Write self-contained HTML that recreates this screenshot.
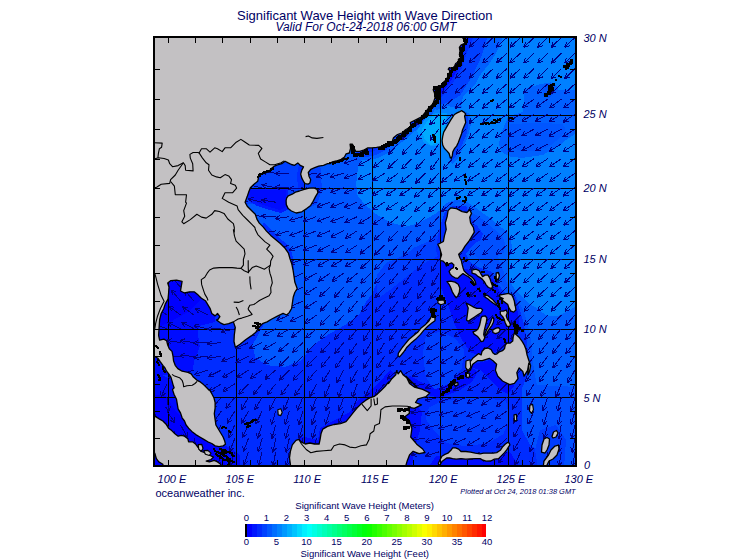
<!DOCTYPE html>
<html><head><meta charset="utf-8"><title>Significant Wave Height with Wave Direction</title>
<style>
html,body{margin:0;padding:0;background:#fff}
body{width:755px;height:560px;position:relative;overflow:hidden;font-family:"Liberation Sans",sans-serif;color:#000064}
</style></head><body>
<svg width="755" height="560" viewBox="0 0 755 560" style="position:absolute;left:0;top:0">
<defs><clipPath id="mc"><rect x="153" y="36" width="424" height="431"/></clipPath></defs>
<g clip-path="url(#mc)">
<rect x="153" y="36" width="424" height="431" fill="#0080ff"/>
<g shape-rendering="crispEdges">
<path d="M365.0 150.0 L362.8 157.5 L358.1 166.9 L356.2 183.7 L357.2 195.0 L364.7 204.3 L376.9 214.7 L390.0 222.2 L405.0 226.8 L416.2 224.0 L427.5 218.4 L436.8 212.8 L442.4 208.1 L446.0 203.0 L455.0 200.0 L466.0 201.0 L473.0 206.0 L480.3 211.2 L490.6 218.7 L500.0 226.2 L507.5 232.8 L511.2 241.2 L512.2 250.6 L509.3 258.1 L508.4 261.8 L507.5 275.0 L510.3 282.5 L516.8 291.8 L524.3 299.3 L530.4 304.5 L536.0 307.3 L542.5 312.9 L547.3 315.7 L553.7 316.5 L558.6 315.7 L563.4 313.3 L569.8 310.0 L578.0 305.0 L578.0 468.0 L152.0 468.0 L152.0 150.0 Z" fill="#0058ff"/>
<path d="M524.6 89.7 L531.8 86.5 L541.4 84.0 L551.1 82.4 L555.9 84.8 L558.3 89.7 L565.6 90.5 L578.0 90.0 L578.0 118.0 L508.5 116.2 L523.0 112.0 L523.8 100.0 Z" fill="#0060ff"/>
<path d="M508.5 116.2 L578.0 116.0 L578.0 132.0 L565.6 140.3 L557.5 146.7 L543.1 154.8 L522.2 158.0 L509.3 156.4 L501.3 151.6 L498.8 143.5 L502.9 129.1 Z" fill="#0060ff"/>
<path d="M503.5 36.0 L499.5 45.9 L494.6 55.9 L487.6 65.8 L479.7 75.7 L475.7 83.7 L469.7 89.6 L463.8 95.6 L461.0 103.6 L462.0 108.5 L456.0 108.0 L448.0 106.0 L436.0 110.0 L430.0 100.0 L450.0 60.0 L465.0 36.0 Z" fill="#0060ff"/>
<path d="M436.0 108.0 L431.0 116.0 L424.0 124.0 L415.0 131.0 L406.0 139.0 L397.0 146.0 L388.0 153.0 L378.0 158.0 L368.0 160.0 L360.0 160.0 L355.0 150.0 L400.0 120.0 L430.0 95.0 Z" fill="#0060ff"/>
<path d="M462.0 110.0 L470.0 114.0 L471.0 124.0 L468.0 136.0 L463.0 148.0 L457.0 160.0 L452.0 164.0 L449.0 158.0 L458.0 140.0 L464.0 120.0 Z" fill="#0060ff"/>
<path d="M466.0 201.0 L473.0 206.0 L480.3 211.2 L490.6 218.7 L500.0 226.2 L507.5 232.8 L511.2 241.2 L512.2 250.6 L509.3 258.1 L508.4 261.8 L507.5 275.0 L510.3 282.5 L516.8 291.8 L524.3 299.3 L530.4 304.5 L536.0 307.3 L542.5 312.9 L547.3 315.7 L553.7 316.5 L558.6 315.7 L563.4 313.3 L569.8 310.0 L578.0 305.0 L578.0 468.0 L522.0 468.0 L522.0 388.0 L515.0 300.0 L470.0 250.0 L455.0 215.0 L455.0 203.0 Z" fill="#0060ff"/>
<path d="M466.0 204.0 L471.9 213.1 L479.4 216.9 L488.7 224.4 L496.2 230.9 L502.8 237.5 L505.6 245.0 L503.7 252.5 L498.1 256.2 L500.0 263.7 L503.7 271.2 L505.6 280.6 L511.2 290.0 L516.8 297.5 L520.6 305.0 L524.0 312.0 L528.0 325.0 L531.0 340.0 L532.0 355.0 L534.0 370.0 L537.0 385.0 L530.0 390.0 L520.0 390.0 L515.0 300.0 L470.0 250.0 L455.0 215.0 Z" fill="#0050ff"/>
<path d="M537.0 385.0 L578.0 387.0 L578.0 468.0 L520.0 468.0 L520.0 390.0 Z" fill="#0050ff"/>
<path d="M542.0 86.0 L548.0 84.0 L554.0 86.0 L555.0 93.0 L549.0 98.0 L543.0 96.0 Z" fill="#0055ff"/>
<path d="M510.1 124.2 L538.2 122.6 L562.3 124.2 L565.6 129.1 L560.7 137.1 L551.1 145.1 L538.2 150.8 L522.2 151.6 L510.9 146.7 L507.7 137.1 Z" fill="#0056ff"/>
<path d="M487.6 36.0 L481.7 55.9 L472.7 75.7 L463.8 89.6 L459.8 95.6 L449.9 101.6 L441.9 104.5 L436.0 103.0 L432.0 98.0 L450.0 60.0 L465.0 36.0 Z" fill="#0040ff"/>
<path d="M434.0 106.0 L429.0 114.0 L422.0 121.0 L413.0 128.0 L404.0 136.0 L395.0 143.0 L386.0 150.0 L376.0 155.0 L366.0 157.0 L358.0 157.0 L355.0 150.0 L400.0 120.0 L430.0 95.0 Z" fill="#0040ff"/>
<path d="M464.0 112.0 L468.0 116.0 L468.5 124.0 L466.0 136.0 L461.0 147.0 L455.0 158.0 L452.0 160.0 L450.0 156.0 L458.0 140.0 L464.0 120.0 Z" fill="#0040ff"/>
<path d="M264.5 322.8 L252.3 345.6 L255.4 357.7 L267.5 365.3 L285.7 366.8 L300.9 360.7 L313.1 345.6 L325.2 336.4 L337.0 329.5 L346.4 324.3 L359.0 314.6 L366.0 302.0 L372.0 294.0 L376.5 284.0 L377.0 275.0 L386.0 262.9 L405.0 255.0 L414.3 247.5 L427.5 241.8 L438.7 234.3 L444.0 225.0 L447.0 212.0 L452.0 206.0 L466.0 206.0 L472.8 222.5 L477.5 226.2 L483.1 233.7 L481.2 239.4 L475.6 243.1 L470.0 248.7 L466.0 254.0 L470.0 262.0 L480.0 268.0 L492.0 272.0 L498.0 284.0 L504.0 292.0 L515.0 296.0 L520.0 310.0 L524.0 325.0 L527.0 340.0 L528.0 355.0 L530.0 370.0 L522.0 388.0 L522.0 400.0 L522.0 430.0 L530.0 445.0 L540.0 452.0 L545.0 468.0 L152.0 468.0 L152.0 280.0 L200.0 280.0 L240.0 330.0 Z" fill="#002cff"/>
<path d="M474.0 36.0 L468.0 50.0 L462.0 68.0 L452.0 84.0 L444.0 95.0 L436.0 100.0 L430.0 95.0 L450.0 60.0 L465.0 36.0 Z" fill="#002cff"/>
<path d="M377.0 275.0 L386.0 262.9 L405.0 255.0 L414.3 247.5 L427.5 241.8 L438.7 234.3 L442.0 240.0 L441.0 256.0 L430.0 260.0 L420.0 266.0 L410.0 274.0 L400.0 282.0 L390.0 290.0 L380.0 297.0 L376.5 290.0 Z" fill="#0040ff"/>
<path d="M240.0 160.0 L320.0 160.0 L322.0 190.0 L317.0 204.0 L300.0 212.0 L285.0 210.0 L270.0 204.0 L255.0 203.0 L245.0 205.0 Z" fill="#0040ff"/>
<path d="M240.0 338.0 L251.0 345.0 L250.0 360.0 L246.0 378.0 L250.0 388.0 L280.0 388.0 L310.0 385.0 L335.0 378.0 L360.0 372.0 L380.0 368.0 L392.0 358.0 L398.0 348.0 L410.0 334.0 L420.0 318.0 L412.0 300.0 L410.0 285.0 L416.0 270.0 L428.0 262.0 L438.0 256.0 L436.0 250.0 L438.0 235.0 L442.0 220.0 L445.0 212.0 L449.0 208.0 L466.0 208.0 L470.0 214.0 L474.0 224.0 L476.0 232.0 L472.0 240.0 L466.0 247.0 L463.0 252.0 L467.0 262.0 L478.0 268.0 L490.0 273.0 L496.0 285.0 L502.0 293.0 L512.0 297.0 L518.0 310.0 L522.0 325.0 L525.0 340.0 L526.0 355.0 L528.0 370.0 L520.0 386.0 L516.0 392.0 L516.0 430.0 L526.0 446.0 L536.0 454.0 L540.0 468.0 L152.0 468.0 L152.0 278.0 L200.0 278.0 L215.0 322.0 L230.0 335.0 Z" fill="#002cff"/>
<path d="M246.0 188.0 L288.0 188.0 L288.0 200.0 L291.0 208.0 L281.0 213.0 L266.0 209.0 L257.0 206.0 L249.0 201.0 Z" fill="#0019ff"/>
<path d="M299.0 165.0 L304.0 169.0 L305.0 188.0 L298.0 188.0 L297.0 175.0 Z" fill="#002cff"/>
<path d="M470.0 36.0 L464.0 50.0 L459.0 68.0 L450.0 82.0 L442.0 93.0 L436.0 98.0 L430.0 95.0 L450.0 60.0 L465.0 36.0 Z" fill="#000cff"/>
<path d="M432.0 100.0 L428.0 108.0 L420.0 116.0 L411.0 124.0 L402.0 132.0 L393.0 139.0 L384.0 146.0 L374.0 151.0 L364.0 154.0 L358.0 154.0 L355.0 148.0 L400.0 118.0 L430.0 93.0 Z" fill="#002cff"/>
<path d="M262.0 226.0 L266.5 231.0 L270.7 235.4 L275.5 239.5 L280.3 243.5 L285.1 248.3 L288.4 253.1 L290.0 258.7 L292.0 270.0 L294.5 270.0 L293.0 258.0 L291.5 251.5 L288.0 246.0 L283.0 241.0 L278.0 236.5 L273.0 232.0 L268.0 227.0 L264.0 222.0 Z" fill="#002cff"/>
<path d="M152.0 278.0 L215.0 278.0 L215.0 322.0 L199.0 326.0 L198.0 335.0 L199.7 346.0 L197.0 354.0 L194.0 361.0 L193.0 369.0 L190.0 373.0 L180.0 375.0 L152.0 375.0 Z" fill="#000cff"/>
<path d="M152.0 370.0 L172.0 380.0 L176.0 395.0 L190.0 420.0 L215.0 440.0 L230.0 448.0 L240.0 455.0 L240.0 468.0 L152.0 468.0 Z" fill="#000cff"/>
<path d="M296.0 468.0 L296.0 440.0 L300.0 436.0 L318.0 440.0 L320.0 428.0 L335.0 420.0 L350.0 412.0 L356.0 402.0 L368.0 392.0 L378.0 384.0 L390.0 370.0 L396.0 376.0 L384.0 400.0 L360.0 425.0 L320.0 450.0 L310.0 468.0 Z" fill="#000cff"/>
<path d="M440.0 262.0 L448.0 258.0 L462.0 268.0 L478.0 272.0 L494.0 280.0 L500.0 292.0 L512.0 300.0 L518.0 312.0 L520.0 330.0 L510.0 345.0 L495.0 352.0 L480.0 356.0 L470.0 352.0 L462.0 340.0 L455.0 325.0 L448.0 305.0 L440.0 285.0 Z" fill="#000cff"/>
<path d="M466.0 366.0 L480.0 370.0 L490.0 380.0 L500.0 390.0 L508.0 394.0 L514.0 386.0 L505.0 370.0 L490.0 360.0 Z" fill="#000cff"/>
<path d="M416.0 392.0 L440.0 398.0 L460.0 390.0 L472.0 382.0 L478.0 372.0 L470.0 366.0 L455.0 378.0 L440.0 386.0 L425.0 384.0 L410.0 376.0 L402.0 380.0 L400.0 390.0 Z" fill="#000cff"/>
<path d="M436.0 456.0 L510.0 452.0 L520.0 468.0 L428.0 468.0 Z" fill="#000cff"/>
<path d="M400.0 388.0 L412.0 398.0 L422.0 412.0 L420.0 430.0 L414.0 450.0 L412.0 468.0 L398.0 468.0 Z" fill="#000cff"/>
<path d="M248.0 190.0 L286.0 190.0 L286.0 200.0 L288.0 206.0 L280.0 210.0 L266.0 206.0 L258.0 203.0 L251.0 199.0 Z" fill="#000cff"/>
<path d="M152.0 278.0 L200.0 278.0 L200.0 300.0 L188.0 312.0 L170.0 322.0 L152.0 330.0 Z" fill="#0000ff"/>
<path d="M152.0 395.0 L165.0 395.0 L175.0 410.0 L190.0 428.0 L210.0 444.0 L225.0 452.0 L225.0 468.0 L152.0 468.0 Z" fill="#0000ff"/>
<path d="M425.8 335.8 L440.7 331.3 L455.6 338.8 L464.6 350.7 L461.6 368.6 L449.6 383.5 L434.7 389.5 L425.8 377.5 L422.8 353.7 Z" fill="#0040ff"/>
<path d="M440.7 401.4 L464.6 398.4 L488.4 398.4 L506.3 401.4 L509.3 419.3 L503.3 434.2 L488.4 443.2 L464.6 446.1 L446.7 443.2 L434.7 431.2 L425.8 419.3 L428.8 407.4 Z" fill="#0040ff"/>
<path d="M540.0 430.0 L556.0 425.0 L566.0 440.0 L564.0 468.0 L538.0 468.0 L535.0 450.0 Z" fill="#003cff"/>
<path d="M417.0 131.4 L418.6 128.0 L421.4 124.0 L425.0 119.5 L428.6 115.5 L436.0 113.0 L447.0 113.0 L446.0 125.0 L443.0 135.0 L442.0 143.0 L440.0 145.0 L432.1 146.5 L428.6 145.0 L423.6 142.0 L421.4 138.6 Z" fill="#0096ff"/>
<path d="M421.4 130.0 L423.6 126.4 L427.1 121.4 L430.0 117.9 L433.0 116.0 L446.0 116.0 L445.0 125.0 L443.0 135.0 L441.5 141.4 L435.7 143.6 L431.4 145.0 L428.6 143.6 L425.0 140.0 L422.9 135.0 Z" fill="#00aaff"/>
</g>
<g stroke="#000" stroke-width="1" shape-rendering="crispEdges">
<line x1="168.5" y1="36" x2="168.5" y2="467"/>
<line x1="236.5" y1="36" x2="236.5" y2="467"/>
<line x1="304.5" y1="36" x2="304.5" y2="467"/>
<line x1="372.5" y1="36" x2="372.5" y2="467"/>
<line x1="440.5" y1="36" x2="440.5" y2="467"/>
<line x1="508.5" y1="36" x2="508.5" y2="467"/>
<line x1="153" y1="397.5" x2="577" y2="397.5"/>
<line x1="153" y1="329.5" x2="577" y2="329.5"/>
<line x1="153" y1="259.5" x2="577" y2="259.5"/>
<line x1="153" y1="188.5" x2="577" y2="188.5"/>
<line x1="153" y1="115.5" x2="577" y2="115.5"/>
</g>
<g stroke="#000086" stroke-width="1" fill="none" stroke-linecap="butt" shape-rendering="crispEdges">
<path d="M153.3 465.5 L158.2 479.0 M158.2 479.0 L158.9 473.5 M158.2 479.0 L154.2 475.2 M153.3 411.1 L160.2 423.7 M160.2 423.7 L160.0 418.1 M160.2 423.7 L155.6 420.5 M153.3 397.4 L152.2 411.8 M152.2 411.8 L155.0 407.0 M152.2 411.8 L150.1 406.6 M153.3 383.8 L147.4 396.9 M147.4 396.9 L151.7 393.3 M147.4 396.9 L147.2 391.3 M153.3 370.1 L146.7 382.9 M146.7 382.9 L151.2 379.5 M146.7 382.9 L146.8 377.3 M166.9 424.7 L174.5 436.9 M174.5 436.9 L174.0 431.3 M174.5 436.9 L169.8 434.0 M166.9 411.1 L175.0 423.0 M175.0 423.0 L174.2 417.4 M175.0 423.0 L170.1 420.2 M166.9 397.4 L168.9 411.7 M168.9 411.7 L170.6 406.4 M168.9 411.7 L165.7 407.0 M166.9 383.8 L161.1 396.9 M161.1 396.9 L165.4 393.3 M161.1 396.9 L160.8 391.3 M166.9 328.8 L153.4 323.7 M153.4 323.7 L157.2 327.8 M153.4 323.7 L159.0 323.1 M166.9 315.0 L155.0 306.8 M155.0 306.8 L157.8 311.7 M155.0 306.8 L160.6 307.6 M166.9 301.1 L156.5 291.2 M156.5 291.2 L158.4 296.4 M156.5 291.2 L161.8 292.8 M180.5 424.7 L187.3 437.4 M187.3 437.4 L187.1 431.8 M187.3 437.4 L182.8 434.1 M180.5 370.1 L168.6 378.2 M168.6 378.2 L174.2 377.4 M168.6 378.2 L171.4 373.3 M180.5 356.3 L166.1 356.0 M166.1 356.0 L171.1 358.6 M166.1 356.0 L171.2 353.6 M180.5 342.6 L166.3 340.4 M166.3 340.4 L170.9 343.7 M166.3 340.4 L171.6 338.7 M180.5 328.8 L167.6 322.3 M167.6 322.3 L171.0 326.8 M167.6 322.3 L173.2 322.4 M180.5 315.0 L169.0 306.3 M169.0 306.3 L171.5 311.3 M169.0 306.3 L174.5 307.3 M180.5 301.1 L171.4 289.9 M171.4 289.9 L172.7 295.4 M171.4 289.9 L176.5 292.2 M180.5 287.2 L170.9 276.4 M170.9 276.4 L172.4 281.8 M170.9 276.4 L176.1 278.5 M194.1 438.3 L197.8 452.2 M197.8 452.2 L198.9 446.7 M197.8 452.2 L194.1 448.0 M194.1 370.1 L180.4 374.6 M180.4 374.6 L186.0 375.4 M180.4 374.6 L184.4 370.7 M194.1 356.3 L179.7 355.5 M179.7 355.5 L184.6 358.3 M179.7 355.5 L184.9 353.3 M194.1 342.6 L179.8 340.6 M179.8 340.6 L184.5 343.8 M179.8 340.6 L185.2 338.8 M194.1 328.8 L181.4 322.1 M181.4 322.1 L184.6 326.6 M181.4 322.1 L187.0 322.2 M194.1 315.0 L182.3 306.7 M182.3 306.7 L185.0 311.6 M182.3 306.7 L187.9 307.5 M194.1 301.1 L184.5 290.4 M184.5 290.4 L186.0 295.8 M184.5 290.4 L189.7 292.4 M207.7 451.9 L209.7 466.2 M209.7 466.2 L211.5 460.8 M209.7 466.2 L206.5 461.5 M207.7 383.8 L196.4 392.7 M196.4 392.7 L201.9 391.5 M196.4 392.7 L198.8 387.7 M207.7 370.1 L194.1 374.8 M194.1 374.8 L199.7 375.5 M194.1 374.8 L198.0 370.8 M207.7 356.3 L193.4 357.7 M193.4 357.7 L198.6 359.7 M193.4 357.7 L198.1 354.7 M207.7 342.6 L193.3 343.1 M193.3 343.1 L198.4 345.4 M193.3 343.1 L198.2 340.4 M207.7 328.8 L193.7 325.4 M193.7 325.4 L198.0 329.0 M193.7 325.4 L199.2 324.2 M207.7 315.0 L194.9 308.3 M194.9 308.3 L198.2 312.8 M194.9 308.3 L200.5 308.4 M221.3 465.5 L220.0 479.8 M220.0 479.8 L222.9 475.1 M220.0 479.8 L218.0 474.6 M221.3 451.9 L217.8 465.9 M217.8 465.9 L221.4 461.6 M217.8 465.9 L216.6 460.4 M221.3 424.7 L214.7 437.5 M214.7 437.5 L219.2 434.2 M214.7 437.5 L214.8 431.9 M221.3 411.1 L213.1 422.9 M213.1 422.9 L218.0 420.2 M213.1 422.9 L213.9 417.4 M221.3 397.4 L212.0 408.4 M212.0 408.4 L217.1 406.2 M212.0 408.4 L213.3 402.9 M221.3 383.8 L209.1 391.4 M209.1 391.4 L214.7 390.9 M209.1 391.4 L212.0 386.7 M221.3 370.1 L208.4 376.5 M208.4 376.5 L214.0 376.5 M208.4 376.5 L211.8 372.0 M221.3 356.3 L207.0 358.2 M207.0 358.2 L212.3 360.0 M207.0 358.2 L211.7 355.1 M221.3 342.6 L207.0 344.0 M207.0 344.0 L212.2 346.0 M207.0 344.0 L211.7 341.0 M221.3 328.8 L206.9 329.1 M206.9 329.1 L212.0 331.5 M206.9 329.1 L211.9 326.5 M234.9 465.5 L231.1 479.4 M231.1 479.4 L234.8 475.2 M231.1 479.4 L230.0 473.9 M234.9 451.9 L229.9 465.4 M229.9 465.4 L233.9 461.6 M229.9 465.4 L229.3 459.8 M234.9 438.3 L229.5 451.7 M229.5 451.7 L233.7 447.9 M229.5 451.7 L229.1 446.1 M234.9 424.7 L228.8 437.7 M228.8 437.7 L233.2 434.2 M228.8 437.7 L228.7 432.1 M234.9 411.1 L227.2 423.2 M227.2 423.2 L232.0 420.3 M227.2 423.2 L227.8 417.6 M234.9 397.4 L225.7 408.5 M225.7 408.5 L230.8 406.2 M225.7 408.5 L227.0 403.0 M234.9 383.8 L222.7 391.3 M222.7 391.3 L228.2 390.8 M222.7 391.3 L225.6 386.6 M234.9 370.1 L222.5 377.3 M222.5 377.3 L228.0 376.9 M222.5 377.3 L225.5 372.6 M234.9 356.3 L221.4 361.4 M221.4 361.4 L227.0 361.9 M221.4 361.4 L225.2 357.3 M234.9 328.8 L220.9 332.0 M220.9 332.0 L226.3 333.3 M220.9 332.0 L225.2 328.5 M248.5 465.5 L244.2 479.2 M244.2 479.2 L248.1 475.2 M244.2 479.2 L243.3 473.7 M248.5 451.9 L243.7 465.5 M243.7 465.5 L247.7 461.6 M243.7 465.5 L243.0 459.9 M248.5 438.3 L243.3 451.7 M243.3 451.7 L247.4 447.9 M243.3 451.7 L242.8 446.1 M248.5 424.7 L242.4 437.7 M242.4 437.7 L246.8 434.2 M242.4 437.7 L242.3 432.1 M248.5 411.1 L241.3 423.5 M241.3 423.5 L246.0 420.4 M241.3 423.5 L241.6 417.9 M248.5 397.4 L241.2 409.8 M241.2 409.8 L245.9 406.8 M241.2 409.8 L241.6 404.2 M248.5 383.8 L238.7 394.3 M238.7 394.3 L244.0 392.3 M238.7 394.3 L240.3 389.0 M248.5 370.1 L236.5 378.1 M236.5 378.1 L242.1 377.4 M236.5 378.1 L239.3 373.2 M248.5 356.3 L235.6 362.7 M235.6 362.7 L241.2 362.7 M235.6 362.7 L239.0 358.3 M248.5 342.6 L235.4 348.6 M235.4 348.6 L241.0 348.8 M235.4 348.6 L238.9 344.3 M248.5 202.2 L234.6 198.6 M234.6 198.6 L238.8 202.3 M234.6 198.6 L240.0 197.5 M262.1 465.5 L258.2 479.4 M258.2 479.4 L262.0 475.2 M258.2 479.4 L257.2 473.9 M262.1 451.9 L258.5 465.8 M258.5 465.8 L262.2 461.6 M258.5 465.8 L257.4 460.4 M262.1 438.3 L258.2 452.1 M258.2 452.1 L261.9 448.0 M258.2 452.1 L257.1 446.6 M262.1 424.7 L257.3 438.3 M257.3 438.3 L261.3 434.4 M257.3 438.3 L256.6 432.7 M262.1 411.1 L255.9 424.0 M255.9 424.0 L260.3 420.6 M255.9 424.0 L255.8 418.4 M262.1 397.4 L254.8 409.8 M254.8 409.8 L259.5 406.8 M254.8 409.8 L255.2 404.2 M262.1 383.8 L253.1 395.0 M253.1 395.0 L258.2 392.6 M253.1 395.0 L254.3 389.5 M262.1 370.1 L250.3 378.4 M250.3 378.4 L255.9 377.5 M250.3 378.4 L253.0 373.5 M262.1 356.3 L249.1 362.6 M249.1 362.6 L254.7 362.7 M249.1 362.6 L252.6 358.2 M262.1 342.6 L249.1 348.8 M249.1 348.8 L254.7 348.9 M249.1 348.8 L252.6 344.4 M262.1 328.8 L249.2 335.2 M249.2 335.2 L254.8 335.2 M249.2 335.2 L252.6 330.7 M262.1 216.6 L247.9 214.1 M247.9 214.1 L252.4 217.4 M247.9 214.1 L253.3 212.5 M262.1 202.2 L248.1 198.7 M248.1 198.7 L252.4 202.4 M248.1 198.7 L253.6 197.5 M262.1 187.8 L248.0 184.8 M248.0 184.8 L252.4 188.3 M248.0 184.8 L253.4 183.4 M275.7 465.5 L272.3 479.5 M272.3 479.5 L275.9 475.2 M272.3 479.5 L271.1 474.0 M275.7 451.9 L273.0 466.0 M273.0 466.0 L276.4 461.6 M273.0 466.0 L271.5 460.7 M275.7 438.3 L272.9 452.4 M272.9 452.4 L276.3 448.0 M272.9 452.4 L271.4 447.0 M275.7 424.7 L271.9 438.6 M271.9 438.6 L275.6 434.4 M271.9 438.6 L270.8 433.1 M275.7 411.1 L271.5 424.8 M271.5 424.8 L275.4 420.8 M271.5 424.8 L270.6 419.3 M275.7 397.4 L269.3 410.3 M269.3 410.3 L273.8 406.9 M269.3 410.3 L269.3 404.7 M275.7 383.8 L266.9 395.2 M266.9 395.2 L271.9 392.7 M266.9 395.2 L268.0 389.7 M275.7 370.1 L264.8 379.5 M264.8 379.5 L270.2 378.1 M264.8 379.5 L267.0 374.3 M275.7 356.3 L263.5 364.1 M263.5 364.1 L269.1 363.5 M263.5 364.1 L266.4 359.3 M275.7 342.6 L263.2 349.8 M263.2 349.8 L268.8 349.4 M263.2 349.8 L266.3 345.1 M275.7 328.8 L263.1 335.8 M263.1 335.8 L268.7 335.6 M263.1 335.8 L266.3 331.2 M275.7 230.8 L261.5 233.5 M261.5 233.5 L266.9 235.0 M261.5 233.5 L266.0 230.1 M275.7 216.6 L261.3 216.0 M261.3 216.0 L266.2 218.7 M261.3 216.0 L266.4 213.7 M275.7 202.2 L261.5 199.9 M261.5 199.9 L266.0 203.2 M261.5 199.9 L266.8 198.3 M275.7 187.8 L261.6 184.9 M261.6 184.9 L266.0 188.4 M261.6 184.9 L267.0 183.5 M275.7 173.3 L261.5 171.1 M261.5 171.1 L266.0 174.3 M261.5 171.1 L266.8 169.4 M289.3 465.5 L285.8 479.5 M285.8 479.5 L289.4 475.2 M285.8 479.5 L284.6 474.0 M289.3 451.9 L286.4 466.0 M286.4 466.0 L289.9 461.6 M286.4 466.0 L285.0 460.6 M289.3 438.3 L286.2 452.3 M286.2 452.3 L289.7 448.0 M286.2 452.3 L284.8 446.9 M289.3 424.7 L285.5 438.6 M285.5 438.6 L289.2 434.4 M285.5 438.6 L284.4 433.1 M289.3 411.1 L285.2 424.9 M285.2 424.9 L289.0 420.8 M285.2 424.9 L284.2 419.3 M289.3 397.4 L283.4 410.6 M283.4 410.6 L287.8 407.0 M283.4 410.6 L283.2 405.0 M289.3 383.8 L280.7 395.3 M280.7 395.3 L285.7 392.8 M280.7 395.3 L281.7 389.8 M289.3 370.1 L279.2 380.3 M279.2 380.3 L284.5 378.5 M279.2 380.3 L280.9 375.0 M289.3 356.3 L278.9 366.4 M278.9 366.4 L284.3 364.7 M278.9 366.4 L280.8 361.1 M289.3 342.6 L278.2 351.8 M278.2 351.8 L283.7 350.5 M278.2 351.8 L280.5 346.7 M289.3 328.8 L277.2 336.6 M277.2 336.6 L282.7 336.0 M277.2 336.6 L280.1 331.8 M289.3 315.0 L276.2 320.9 M276.2 320.9 L281.8 321.1 M276.2 320.9 L279.7 316.6 M289.3 245.0 L275.8 249.9 M275.8 249.9 L281.3 250.6 M275.8 249.9 L279.6 245.9 M289.3 230.8 L275.6 235.1 M275.6 235.1 L281.1 236.0 M275.6 235.1 L279.6 231.3 M289.3 216.6 L275.1 218.8 M275.1 218.8 L280.4 220.5 M275.1 218.8 L279.6 215.5 M289.3 187.8 L274.9 187.0 M274.9 187.0 L279.8 189.7 M274.9 187.0 L280.1 184.8 M289.3 173.3 L274.9 173.5 M274.9 173.5 L279.9 175.9 M274.9 173.5 L279.9 170.9 M302.9 438.3 L299.1 452.2 M299.1 452.2 L302.8 448.0 M299.1 452.2 L298.0 446.7 M302.9 424.7 L299.1 438.6 M299.1 438.6 L302.9 434.4 M299.1 438.6 L298.1 433.1 M302.9 411.1 L298.6 424.8 M298.6 424.8 L302.5 420.8 M298.6 424.8 L297.8 419.3 M302.9 397.4 L297.1 410.6 M297.1 410.6 L301.4 407.0 M297.1 410.6 L296.9 405.0 M302.9 383.8 L294.7 395.6 M294.7 395.6 L299.6 392.9 M294.7 395.6 L295.5 390.1 M302.9 370.1 L292.9 380.4 M292.9 380.4 L298.2 378.5 M292.9 380.4 L294.6 375.1 M302.9 356.3 L292.7 366.5 M292.7 366.5 L298.0 364.7 M292.7 366.5 L294.5 361.2 M302.9 342.6 L292.4 352.5 M292.4 352.5 L297.8 350.8 M292.4 352.5 L294.4 347.2 M302.9 328.8 L291.3 337.4 M291.3 337.4 L296.8 336.4 M291.3 337.4 L293.9 332.4 M302.9 315.0 L290.1 321.6 M290.1 321.6 L295.7 321.5 M290.1 321.6 L293.4 317.1 M302.9 301.1 L289.7 306.9 M289.7 306.9 L295.3 307.2 M289.7 306.9 L293.3 302.6 M302.9 287.2 L289.8 293.2 M289.8 293.2 L295.4 293.4 M289.8 293.2 L293.3 288.9 M302.9 273.2 L289.8 279.1 M289.8 279.1 L295.4 279.3 M289.8 279.1 L293.3 274.8 M302.9 259.1 L289.4 264.2 M289.4 264.2 L295.0 264.8 M289.4 264.2 L293.2 260.1 M302.9 245.0 L289.4 250.0 M289.4 250.0 L294.9 250.6 M289.4 250.0 L293.2 245.9 M302.9 230.8 L289.4 235.7 M289.4 235.7 L294.9 236.4 M289.4 235.7 L293.2 231.7 M302.9 216.6 L289.1 220.7 M289.1 220.7 L294.6 221.6 M289.1 220.7 L293.2 216.9 M302.9 187.8 L288.6 189.1 M288.6 189.1 L293.8 191.1 M288.6 189.1 L293.3 186.1 M316.5 438.3 L312.1 452.0 M312.1 452.0 L316.0 448.0 M312.1 452.0 L311.3 446.5 M316.5 424.7 L312.2 438.4 M312.2 438.4 L316.1 434.4 M312.2 438.4 L311.3 432.9 M316.5 411.1 L311.8 424.7 M311.8 424.7 L315.8 420.7 M311.8 424.7 L311.1 419.1 M316.5 397.4 L311.5 410.9 M311.5 410.9 L315.6 407.1 M311.5 410.9 L310.9 405.4 M316.5 383.8 L309.9 396.6 M309.9 396.6 L314.4 393.2 M309.9 396.6 L310.0 391.0 M316.5 370.1 L307.3 381.2 M307.3 381.2 L312.4 378.9 M307.3 381.2 L308.6 375.7 M316.5 356.3 L306.6 366.8 M306.6 366.8 L311.8 364.9 M306.6 366.8 L308.2 361.4 M316.5 342.6 L306.3 352.7 M306.3 352.7 L311.6 351.0 M306.3 352.7 L308.1 347.4 M316.5 328.8 L305.6 338.2 M305.6 338.2 L311.0 336.8 M305.6 338.2 L307.8 333.1 M316.5 315.0 L304.9 323.5 M304.9 323.5 L310.4 322.5 M304.9 323.5 L307.5 318.5 M316.5 301.1 L304.5 309.1 M304.5 309.1 L310.1 308.4 M304.5 309.1 L307.3 304.2 M316.5 287.2 L304.3 294.9 M304.3 294.9 L309.9 294.3 M304.3 294.9 L307.2 290.1 M316.5 273.2 L303.9 280.2 M303.9 280.2 L309.5 279.9 M303.9 280.2 L307.1 275.6 M316.5 259.1 L303.4 265.0 M303.4 265.0 L309.0 265.2 M303.4 265.0 L306.9 260.7 M316.5 245.0 L303.2 250.5 M303.2 250.5 L308.8 250.9 M303.2 250.5 L306.9 246.3 M316.5 230.8 L303.1 236.1 M303.1 236.1 L308.7 236.6 M303.1 236.1 L306.9 231.9 M316.5 216.6 L303.0 221.5 M303.0 221.5 L308.5 222.1 M303.0 221.5 L306.8 217.4 M316.5 202.2 L302.8 206.7 M302.8 206.7 L308.4 207.5 M302.8 206.7 L306.8 202.8 M316.5 187.8 L302.4 190.9 M302.4 190.9 L307.9 192.3 M302.4 190.9 L306.8 187.4 M316.5 173.3 L302.2 175.2 M302.2 175.2 L307.5 177.0 M302.2 175.2 L306.9 172.1 M330.1 424.7 L325.0 438.1 M325.0 438.1 L329.1 434.3 M325.0 438.1 L324.4 432.6 M330.1 411.1 L325.4 424.7 M325.4 424.7 L329.4 420.7 M325.4 424.7 L324.7 419.1 M330.1 397.4 L325.6 411.1 M325.6 411.1 L329.5 407.1 M325.6 411.1 L324.8 405.6 M330.1 383.8 L324.6 397.1 M324.6 397.1 L328.8 393.4 M324.6 397.1 L324.2 391.5 M330.1 370.1 L322.4 382.3 M322.4 382.3 L327.2 379.3 M322.4 382.3 L323.0 376.7 M330.1 356.3 L321.0 367.5 M321.0 367.5 L326.1 365.2 M321.0 367.5 L322.3 362.1 M330.1 342.6 L320.4 353.2 M320.4 353.2 L325.6 351.2 M320.4 353.2 L321.9 347.8 M330.1 328.8 L320.0 339.1 M320.0 339.1 L325.3 337.2 M320.0 339.1 L321.7 333.7 M330.1 315.0 L320.0 325.2 M320.0 325.2 L325.3 323.4 M320.0 325.2 L321.7 319.9 M330.1 301.1 L320.1 311.4 M320.1 311.4 L325.3 309.6 M320.1 311.4 L321.8 306.1 M330.1 287.2 L319.3 296.7 M319.3 296.7 L324.7 295.3 M319.3 296.7 L321.4 291.5 M330.1 273.2 L318.2 281.3 M318.2 281.3 L323.8 280.5 M318.2 281.3 L321.0 276.4 M330.1 259.1 L317.7 266.5 M317.7 266.5 L323.3 266.1 M317.7 266.5 L320.8 261.8 M330.1 245.0 L317.3 251.7 M317.3 251.7 L322.9 251.6 M317.3 251.7 L320.6 247.2 M330.1 230.8 L316.8 236.3 M316.8 236.3 L322.4 236.7 M316.8 236.3 L320.5 232.1 M330.1 216.6 L316.6 221.5 M316.6 221.5 L322.1 222.1 M316.6 221.5 L320.4 217.5 M330.1 202.2 L316.6 207.2 M316.6 207.2 L322.1 207.8 M316.6 207.2 L320.4 203.1 M330.1 187.8 L316.3 192.1 M316.3 192.1 L321.9 193.0 M316.3 192.1 L320.4 188.2 M330.1 173.3 L316.2 177.0 M316.2 177.0 L321.7 178.1 M316.2 177.0 L320.4 173.3 M343.7 411.1 L338.5 424.5 M338.5 424.5 L342.6 420.7 M338.5 424.5 L338.0 418.9 M343.7 397.4 L338.7 410.9 M338.7 410.9 L342.8 407.1 M338.7 410.9 L338.1 405.4 M343.7 383.8 L338.2 397.1 M338.2 397.1 L342.4 393.4 M338.2 397.1 L337.8 391.5 M343.7 370.1 L336.8 382.7 M336.8 382.7 L341.4 379.5 M336.8 382.7 L337.0 377.1 M343.7 356.3 L335.3 368.1 M335.3 368.1 L340.3 365.4 M335.3 368.1 L336.2 362.5 M343.7 342.6 L334.6 353.8 M334.6 353.8 L339.7 351.4 M334.6 353.8 L335.9 348.3 M343.7 328.8 L334.3 339.7 M334.3 339.7 L339.4 337.5 M334.3 339.7 L335.7 334.3 M343.7 315.0 L334.4 326.0 M334.4 326.0 L339.6 323.8 M334.4 326.0 L335.8 320.6 M343.7 301.1 L334.7 312.4 M334.7 312.4 L339.8 310.0 M334.7 312.4 L335.9 306.9 M343.7 287.2 L334.0 297.8 M334.0 297.8 L339.2 295.8 M334.0 297.8 L335.5 292.4 M343.7 273.2 L331.9 281.4 M331.9 281.4 L337.4 280.6 M331.9 281.4 L334.6 276.5 M343.7 259.1 L331.3 266.5 M331.3 266.5 L336.9 266.0 M331.3 266.5 L334.4 261.8 M343.7 245.0 L331.3 252.4 M331.3 252.4 L336.9 252.0 M331.3 252.4 L334.4 247.7 M343.7 230.8 L330.7 237.1 M330.7 237.1 L336.3 237.1 M330.7 237.1 L334.2 232.7 M343.7 216.6 L330.3 221.9 M330.3 221.9 L335.9 222.3 M330.3 221.9 L334.1 217.7 M343.7 202.2 L330.3 207.5 M330.3 207.5 L335.9 208.0 M330.3 207.5 L334.1 203.4 M343.7 187.8 L330.1 192.7 M330.1 192.7 L335.7 193.3 M330.1 192.7 L334.0 188.6 M343.7 173.3 L329.8 177.1 M329.8 177.1 L335.3 178.2 M329.8 177.1 L334.0 173.4 M343.7 158.7 L329.9 162.6 M329.9 162.6 L335.4 163.6 M329.9 162.6 L334.0 158.9 M357.3 397.4 L352.3 410.9 M352.3 410.9 L356.4 407.1 M352.3 410.9 L351.7 405.3 M357.3 383.8 L352.2 397.2 M352.2 397.2 L356.3 393.4 M352.2 397.2 L351.6 391.6 M357.3 370.1 L350.6 382.8 M350.6 382.8 L355.1 379.5 M350.6 382.8 L350.7 377.2 M357.3 356.3 L349.3 368.3 M349.3 368.3 L354.1 365.5 M349.3 368.3 L350.0 362.7 M357.3 342.6 L349.0 354.4 M349.0 354.4 L353.9 351.7 M349.0 354.4 L349.9 348.8 M357.3 328.8 L348.5 340.2 M348.5 340.2 L353.6 337.8 M348.5 340.2 L349.6 334.7 M357.3 315.0 L348.2 326.1 M348.2 326.1 L353.3 323.8 M348.2 326.1 L349.4 320.7 M357.3 301.1 L348.3 312.4 M348.3 312.4 L353.4 310.0 M348.3 312.4 L349.5 306.9 M357.3 287.2 L347.6 297.8 M347.6 297.8 L352.8 295.8 M347.6 297.8 L349.1 292.4 M357.3 273.2 L346.3 282.4 M346.3 282.4 L351.7 281.1 M346.3 282.4 L348.5 277.3 M357.3 259.1 L345.1 266.8 M345.1 266.8 L350.7 266.2 M345.1 266.8 L348.0 262.0 M357.3 245.0 L345.3 253.0 M345.3 253.0 L350.8 252.3 M345.3 253.0 L348.1 248.1 M357.3 230.8 L345.0 238.3 M345.0 238.3 L350.6 237.8 M345.0 238.3 L348.0 233.6 M357.3 216.6 L344.4 222.9 M344.4 222.9 L350.0 223.0 M344.4 222.9 L347.8 218.5 M357.3 202.2 L344.0 207.8 M344.0 207.8 L349.6 208.2 M344.0 207.8 L347.7 203.6 M357.3 187.8 L343.9 193.2 M343.9 193.2 L349.5 193.6 M343.9 193.2 L347.7 189.0 M357.3 173.3 L343.8 178.3 M343.8 178.3 L349.4 178.9 M343.8 178.3 L347.6 174.2 M357.3 158.7 L343.8 163.7 M343.8 163.7 L349.4 164.3 M343.8 163.7 L347.6 159.6 M370.9 397.4 L365.3 410.7 M365.3 410.7 L369.5 407.0 M365.3 410.7 L365.0 405.1 M370.9 383.8 L365.1 396.9 M365.1 396.9 L369.4 393.3 M365.1 396.9 L364.9 391.4 M370.9 370.1 L363.5 382.4 M363.5 382.4 L368.2 379.4 M363.5 382.4 L363.9 376.8 M370.9 356.3 L363.1 368.4 M363.1 368.4 L367.9 365.6 M363.1 368.4 L363.7 362.9 M370.9 342.6 L363.5 354.9 M363.5 354.9 L368.2 351.9 M363.5 354.9 L363.9 349.4 M370.9 328.8 L363.1 340.9 M363.1 340.9 L367.9 338.0 M363.1 340.9 L363.7 335.3 M370.9 315.0 L361.9 326.3 M361.9 326.3 L367.0 323.9 M361.9 326.3 L363.1 320.8 M370.9 301.1 L361.5 312.0 M361.5 312.0 L366.7 309.8 M361.5 312.0 L362.9 306.6 M370.9 287.2 L360.9 297.5 M360.9 297.5 L366.2 295.6 M360.9 297.5 L362.6 292.2 M370.9 273.2 L360.7 283.3 M360.7 283.3 L366.0 281.6 M360.7 283.3 L362.5 278.0 M370.9 259.1 L360.4 269.0 M360.4 269.0 L365.8 267.4 M360.4 269.0 L362.4 263.7 M370.9 245.0 L359.8 254.2 M359.8 254.2 L365.3 252.9 M359.8 254.2 L362.1 249.1 M370.9 230.8 L359.3 239.4 M359.3 239.4 L364.8 238.4 M359.3 239.4 L361.9 234.4 M370.9 216.6 L358.5 224.0 M358.5 224.0 L364.1 223.5 M358.5 224.0 L361.6 219.2 M370.9 202.2 L357.9 208.4 M357.9 208.4 L363.5 208.5 M357.9 208.4 L361.4 204.0 M370.9 187.8 L357.7 193.5 M357.7 193.5 L363.3 193.8 M357.7 193.5 L361.3 189.3 M370.9 173.3 L357.9 179.5 M357.9 179.5 L363.5 179.6 M357.9 179.5 L361.4 175.1 M370.9 158.7 L358.3 165.7 M358.3 165.7 L363.9 165.4 M358.3 165.7 L361.5 161.1 M384.5 383.8 L375.4 394.9 M375.4 394.9 L380.5 392.6 M375.4 394.9 L376.6 389.4 M384.5 370.1 L375.4 381.3 M375.4 381.3 L380.5 378.9 M375.4 381.3 L376.7 375.8 M384.5 356.3 L376.4 368.3 M376.4 368.3 L381.3 365.5 M376.4 368.3 L377.2 362.7 M384.5 342.6 L377.2 355.0 M377.2 355.0 L381.9 351.9 M377.2 355.0 L377.6 349.4 M384.5 328.8 L376.7 340.9 M376.7 340.9 L381.5 338.0 M376.7 340.9 L377.3 335.4 M384.5 315.0 L375.7 326.4 M375.7 326.4 L380.7 323.9 M375.7 326.4 L376.8 320.9 M384.5 301.1 L375.4 312.3 M375.4 312.3 L380.5 309.9 M375.4 312.3 L376.6 306.8 M384.5 287.2 L374.9 297.9 M374.9 297.9 L380.1 295.8 M374.9 297.9 L376.4 292.5 M384.5 273.2 L374.6 283.6 M374.6 283.6 L379.8 281.7 M374.6 283.6 L376.2 278.3 M384.5 259.1 L374.5 269.5 M374.5 269.5 L379.8 267.6 M374.5 269.5 L376.2 264.2 M384.5 245.0 L374.3 255.2 M374.3 255.2 L379.6 253.4 M374.3 255.2 L376.1 249.9 M384.5 230.8 L373.7 240.4 M373.7 240.4 L379.1 238.9 M373.7 240.4 L375.8 235.2 M384.5 216.6 L372.8 225.0 M372.8 225.0 L378.4 224.1 M372.8 225.0 L375.4 220.1 M384.5 202.2 L372.3 209.8 M372.3 209.8 L377.8 209.3 M372.3 209.8 L375.2 205.1 M384.5 187.8 L372.2 195.3 M372.2 195.3 L377.8 194.8 M372.2 195.3 L375.2 190.5 M384.5 173.3 L372.4 181.1 M372.4 181.1 L378.0 180.5 M372.4 181.1 L375.3 176.3 M384.5 158.7 L373.2 167.6 M373.2 167.6 L378.7 166.4 M373.2 167.6 L375.6 162.5 M398.1 370.1 L387.0 379.2 M387.0 379.2 L392.4 378.0 M387.0 379.2 L389.3 374.1 M398.1 356.3 L388.5 367.1 M388.5 367.1 L393.7 365.0 M388.5 367.1 L390.0 361.7 M398.1 342.6 L389.3 354.0 M389.3 354.0 L394.3 351.5 M389.3 354.0 L390.4 348.5 M398.1 328.8 L389.2 340.1 M389.2 340.1 L394.3 337.7 M389.2 340.1 L390.3 334.6 M398.1 315.0 L389.4 326.4 M389.4 326.4 L394.4 324.0 M389.4 326.4 L390.4 320.9 M398.1 301.1 L389.3 312.5 M389.3 312.5 L394.4 310.1 M389.3 312.5 L390.4 307.0 M398.1 287.2 L389.4 298.6 M389.4 298.6 L394.4 296.1 M389.4 298.6 L390.4 293.1 M398.1 273.2 L389.1 284.4 M389.1 284.4 L394.2 282.0 M389.1 284.4 L390.3 278.9 M398.1 259.1 L388.3 269.7 M388.3 269.7 L393.6 267.7 M388.3 269.7 L389.9 264.3 M398.1 245.0 L388.5 255.8 M388.5 255.8 L393.7 253.7 M388.5 255.8 L390.0 250.4 M398.1 230.8 L388.1 241.2 M388.1 241.2 L393.4 239.3 M388.1 241.2 L389.8 235.9 M398.1 216.6 L387.0 225.7 M387.0 225.7 L392.4 224.5 M387.0 225.7 L389.3 220.6 M398.1 202.2 L386.0 210.1 M386.0 210.1 L391.6 209.4 M386.0 210.1 L388.9 205.3 M398.1 187.8 L385.9 195.5 M385.9 195.5 L391.5 194.9 M385.9 195.5 L388.8 190.7 M398.1 173.3 L386.5 181.8 M386.5 181.8 L392.0 180.8 M386.5 181.8 L389.1 176.8 M398.1 158.7 L387.8 168.7 M387.8 168.7 L393.1 167.0 M387.8 168.7 L389.7 163.5 M398.1 144.0 L388.2 154.5 M388.2 154.5 L393.5 152.5 M388.2 154.5 L389.9 149.1 M411.7 465.5 L398.2 470.4 M398.2 470.4 L403.7 471.0 M398.2 470.4 L402.0 466.4 M411.7 424.7 L397.3 424.8 M397.3 424.8 L402.3 427.2 M397.3 424.8 L402.3 422.3 M411.7 411.1 L397.4 412.4 M397.4 412.4 L402.6 414.4 M397.4 412.4 L402.1 409.4 M411.7 383.8 L397.7 387.1 M397.7 387.1 L403.2 388.4 M397.7 387.1 L402.0 383.5 M411.7 370.1 L399.1 377.1 M399.1 377.1 L404.7 376.8 M399.1 377.1 L402.3 372.5 M411.7 356.3 L400.2 365.0 M400.2 365.0 L405.7 364.0 M400.2 365.0 L402.7 360.0 M411.7 342.6 L400.3 351.3 M400.3 351.3 L405.8 350.3 M400.3 351.3 L402.7 346.3 M411.7 328.8 L401.1 338.6 M401.1 338.6 L406.5 337.0 M401.1 338.6 L403.1 333.4 M411.7 315.0 L402.6 326.1 M402.6 326.1 L407.7 323.8 M402.6 326.1 L403.8 320.6 M411.7 301.1 L402.8 312.4 M402.8 312.4 L407.8 310.0 M402.8 312.4 L403.9 306.9 M411.7 287.2 L403.4 299.0 M403.4 299.0 L408.3 296.3 M403.4 299.0 L404.3 293.4 M411.7 273.2 L403.5 285.0 M403.5 285.0 L408.4 282.3 M403.5 285.0 L404.3 279.5 M411.7 259.1 L402.7 270.4 M402.7 270.4 L407.8 268.0 M402.7 270.4 L403.9 264.9 M411.7 245.0 L402.9 256.4 M402.9 256.4 L407.9 254.0 M402.9 256.4 L404.0 250.9 M411.7 230.8 L402.4 241.8 M402.4 241.8 L407.5 239.6 M402.4 241.8 L403.7 236.4 M411.7 216.6 L401.2 226.5 M401.2 226.5 L406.6 224.8 M401.2 226.5 L403.2 221.2 M411.7 202.2 L400.0 210.6 M400.0 210.6 L405.5 209.7 M400.0 210.6 L402.6 205.7 M411.7 187.8 L399.7 195.8 M399.7 195.8 L405.3 195.1 M399.7 195.8 L402.5 191.0 M411.7 173.3 L400.8 182.7 M400.8 182.7 L406.2 181.3 M400.8 182.7 L403.0 177.5 M411.7 158.7 L401.8 169.1 M401.8 169.1 L407.0 167.2 M401.8 169.1 L403.4 163.7 M411.7 144.0 L402.0 154.6 M402.0 154.6 L407.2 152.6 M402.0 154.6 L403.6 149.2 M411.7 129.1 L402.4 140.1 M402.4 140.1 L407.5 137.9 M402.4 140.1 L403.7 134.7 M425.3 465.5 L411.8 470.4 M411.8 470.4 L417.3 471.0 M411.8 470.4 L415.6 466.3 M425.3 451.9 L411.3 455.1 M411.3 455.1 L416.7 456.4 M411.3 455.1 L415.6 451.6 M425.3 438.3 L411.0 440.0 M411.0 440.0 L416.3 441.9 M411.0 440.0 L415.7 437.0 M425.3 424.7 L411.0 425.9 M411.0 425.9 L416.2 428.0 M411.0 425.9 L415.7 423.0 M425.3 411.1 L411.0 412.9 M411.0 412.9 L416.3 414.7 M411.0 412.9 L415.7 409.8 M425.3 397.4 L411.0 398.9 M411.0 398.9 L416.2 400.8 M411.0 398.9 L415.7 395.9 M425.3 383.8 L411.2 386.7 M411.2 386.7 L416.6 388.1 M411.2 386.7 L415.6 383.2 M425.3 370.1 L412.4 376.4 M412.4 376.4 L418.0 376.4 M412.4 376.4 L415.8 371.9 M425.3 356.3 L413.0 363.9 M413.0 363.9 L418.6 363.4 M413.0 363.9 L416.0 359.2 M425.3 342.6 L412.9 349.9 M412.9 349.9 L418.5 349.5 M412.9 349.9 L415.9 345.2 M425.3 328.8 L413.2 336.6 M413.2 336.6 L418.8 336.0 M413.2 336.6 L416.1 331.8 M425.3 315.0 L414.4 324.4 M414.4 324.4 L419.8 323.0 M414.4 324.4 L416.6 319.2 M425.3 301.1 L415.7 311.8 M415.7 311.8 L420.9 309.7 M415.7 311.8 L417.2 306.4 M425.3 287.2 L417.0 298.9 M417.0 298.9 L421.9 296.3 M417.0 298.9 L417.9 293.4 M425.3 273.2 L418.1 285.7 M418.1 285.7 L422.8 282.6 M418.1 285.7 L418.5 280.1 M425.3 259.1 L417.3 271.1 M417.3 271.1 L422.2 268.3 M417.3 271.1 L418.0 265.6 M425.3 245.0 L416.4 256.4 M416.4 256.4 L421.5 253.9 M416.4 256.4 L417.6 250.9 M425.3 230.8 L416.1 241.9 M416.1 241.9 L421.2 239.6 M416.1 241.9 L417.4 236.5 M425.3 216.6 L415.4 227.0 M415.4 227.0 L420.7 225.1 M415.4 227.0 L417.0 221.7 M425.3 202.2 L414.4 211.6 M414.4 211.6 L419.8 210.2 M414.4 211.6 L416.6 206.5 M425.3 187.8 L414.3 197.1 M414.3 197.1 L419.7 195.7 M414.3 197.1 L416.5 191.9 M425.3 173.3 L415.2 183.5 M415.2 183.5 L420.5 181.7 M415.2 183.5 L416.9 178.2 M425.3 158.7 L415.7 169.4 M415.7 169.4 L420.9 167.3 M415.7 169.4 L417.2 164.0 M425.3 144.0 L415.7 154.7 M415.7 154.7 L420.9 152.6 M415.7 154.7 L417.2 149.3 M425.3 129.1 L416.4 140.4 M416.4 140.4 L421.5 138.0 M416.4 140.4 L417.5 135.0 M425.3 114.2 L416.2 125.3 M416.2 125.3 L421.3 123.0 M416.2 125.3 L417.4 119.9 M438.9 465.5 L425.6 471.0 M425.6 471.0 L431.2 471.4 M425.6 471.0 L429.3 466.8 M438.9 451.9 L425.1 456.1 M425.1 456.1 L430.7 457.0 M425.1 456.1 L429.2 452.3 M438.9 438.3 L424.9 441.8 M424.9 441.8 L430.4 443.0 M424.9 441.8 L429.2 438.2 M438.9 424.7 L425.0 428.4 M425.0 428.4 L430.5 429.5 M425.0 428.4 L429.2 424.7 M438.9 411.1 L425.0 414.6 M425.0 414.6 L430.4 415.8 M425.0 414.6 L429.2 411.0 M438.9 397.4 L424.9 400.6 M424.9 400.6 L430.3 401.9 M424.9 400.6 L429.2 397.1 M438.9 383.8 L425.2 388.1 M425.2 388.1 L430.7 388.9 M425.2 388.1 L429.2 384.2 M438.9 370.1 L426.1 376.6 M426.1 376.6 L431.7 376.5 M426.1 376.6 L429.4 372.1 M438.9 356.3 L426.6 363.8 M426.6 363.8 L432.2 363.3 M426.6 363.8 L429.6 359.1 M438.9 342.6 L426.5 349.9 M426.5 349.9 L432.1 349.5 M426.5 349.9 L429.6 345.2 M438.9 328.8 L426.6 336.3 M426.6 336.3 L432.2 335.8 M426.6 336.3 L429.6 331.6 M438.9 315.0 L426.7 322.7 M426.7 322.7 L432.3 322.1 M426.7 322.7 L429.6 317.9 M438.9 301.1 L428.1 310.6 M428.1 310.6 L433.5 309.2 M428.1 310.6 L430.2 305.4 M438.9 287.2 L430.4 298.8 M430.4 298.8 L435.4 296.2 M430.4 298.8 L431.4 293.3 M438.9 273.2 L431.9 285.8 M431.9 285.8 L436.5 282.6 M431.9 285.8 L432.2 280.2 M438.9 259.1 L431.4 271.4 M431.4 271.4 L436.2 268.4 M431.4 271.4 L431.9 265.9 M438.9 230.8 L429.6 241.9 M429.6 241.9 L434.8 239.6 M429.6 241.9 L431.0 236.4 M438.9 216.6 L429.1 227.1 M429.1 227.1 L434.3 225.1 M429.1 227.1 L430.7 221.7 M438.9 202.2 L428.3 212.0 M428.3 212.0 L433.7 210.4 M428.3 212.0 L430.3 206.7 M438.9 187.8 L428.1 197.4 M428.1 197.4 L433.5 195.9 M428.1 197.4 L430.2 192.2 M438.9 173.3 L428.9 183.7 M428.9 183.7 L434.2 181.8 M428.9 183.7 L430.6 178.4 M438.9 158.7 L430.4 170.3 M430.4 170.3 L435.3 167.7 M430.4 170.3 L431.3 164.8 M438.9 144.0 L430.5 155.7 M430.5 155.7 L435.5 153.0 M430.5 155.7 L431.4 150.2 M438.9 129.1 L429.9 140.3 M429.9 140.3 L434.9 138.0 M429.9 140.3 L431.1 134.9 M438.9 114.2 L429.6 125.2 M429.6 125.2 L434.7 122.9 M429.6 125.2 L430.9 119.7 M438.9 99.1 L429.0 109.6 M429.0 109.6 L434.3 107.6 M429.0 109.6 L430.7 104.2 M452.5 465.5 L439.6 471.9 M439.6 471.9 L445.2 471.9 M439.6 471.9 L443.0 467.4 M452.5 438.3 L438.8 442.8 M438.8 442.8 L444.4 443.6 M438.8 442.8 L442.8 438.9 M452.5 424.7 L438.7 428.8 M438.7 428.8 L444.2 429.8 M438.7 428.8 L442.8 425.0 M452.5 411.1 L438.8 415.5 M438.8 415.5 L444.4 416.3 M438.8 415.5 L442.8 411.6 M452.5 397.4 L439.0 402.3 M439.0 402.3 L444.5 403.0 M439.0 402.3 L442.8 398.3 M452.5 383.8 L439.3 389.4 M439.3 389.4 L444.8 389.7 M439.3 389.4 L442.9 385.2 M452.5 370.1 L439.9 377.0 M439.9 377.0 L445.5 376.8 M439.9 377.0 L443.1 372.4 M452.5 356.3 L440.3 364.0 M440.3 364.0 L445.9 363.4 M440.3 364.0 L443.2 359.2 M452.5 342.6 L440.3 350.3 M440.3 350.3 L445.9 349.7 M440.3 350.3 L443.2 345.5 M452.5 328.8 L440.1 336.2 M440.1 336.2 L445.7 335.7 M440.1 336.2 L443.2 331.5 M452.5 315.0 L440.1 322.3 M440.1 322.3 L445.7 321.9 M440.1 322.3 L443.1 317.6 M452.5 301.1 L441.0 309.7 M441.0 309.7 L446.5 308.7 M441.0 309.7 L443.5 304.7 M452.5 202.2 L441.5 211.5 M441.5 211.5 L446.9 210.2 M441.5 211.5 L443.7 206.4 M452.5 187.8 L440.9 196.4 M440.9 196.4 L446.4 195.4 M440.9 196.4 L443.5 191.4 M452.5 173.3 L441.3 182.3 M441.3 182.3 L446.8 181.1 M441.3 182.3 L443.6 177.3 M452.5 158.7 L443.0 169.5 M443.0 169.5 L448.1 167.3 M443.0 169.5 L444.4 164.1 M452.5 114.2 L442.5 124.6 M442.5 124.6 L447.8 122.7 M442.5 124.6 L444.2 119.2 M452.5 99.1 L442.0 109.0 M442.0 109.0 L447.4 107.4 M442.0 109.0 L444.0 103.7 M452.5 83.9 L441.9 93.6 M441.9 93.6 L447.3 92.1 M441.9 93.6 L443.9 88.4 M452.5 68.6 L441.8 78.3 M441.8 78.3 L447.2 76.7 M441.8 78.3 L443.9 73.0 M466.1 465.5 L453.9 473.1 M453.9 473.1 L459.4 472.6 M453.9 473.1 L456.8 468.3 M466.1 438.3 L453.0 444.2 M453.0 444.2 L458.6 444.4 M453.0 444.2 L456.5 439.9 M466.1 424.7 L452.8 430.2 M452.8 430.2 L458.4 430.6 M452.8 430.2 L456.5 426.0 M466.1 411.1 L452.8 416.5 M452.8 416.5 L458.3 416.9 M452.8 416.5 L456.5 412.3 M466.1 397.4 L452.8 403.0 M452.8 403.0 L458.4 403.3 M452.8 403.0 L456.5 398.8 M466.1 383.8 L453.2 390.1 M453.2 390.1 L458.8 390.1 M453.2 390.1 L456.6 385.7 M466.1 370.1 L453.8 377.5 M453.8 377.5 L459.3 377.0 M453.8 377.5 L456.8 372.8 M466.1 356.3 L454.1 364.4 M454.1 364.4 L459.7 363.6 M454.1 364.4 L456.9 359.5 M466.1 342.6 L454.2 350.6 M454.2 350.6 L459.7 349.9 M454.2 350.6 L456.9 345.8 M466.1 328.8 L454.0 336.6 M454.0 336.6 L459.5 336.0 M454.0 336.6 L456.9 331.8 M466.1 315.0 L454.0 322.8 M454.0 322.8 L459.6 322.2 M454.0 322.8 L456.9 318.0 M466.1 301.1 L454.7 309.9 M454.7 309.9 L460.2 308.8 M454.7 309.9 L457.2 304.9 M466.1 287.2 L456.0 297.4 M456.0 297.4 L461.3 295.6 M456.0 297.4 L457.7 292.1 M466.1 259.1 L456.9 270.2 M456.9 270.2 L462.0 268.0 M456.9 270.2 L458.2 264.8 M466.1 245.0 L456.7 255.9 M456.7 255.9 L461.8 253.7 M456.7 255.9 L458.1 250.5 M466.1 202.2 L454.6 210.8 M454.6 210.8 L460.1 209.8 M454.6 210.8 L457.1 205.9 M466.1 187.8 L454.0 195.6 M454.0 195.6 L459.5 195.0 M454.0 195.6 L456.9 190.8 M466.1 173.3 L454.0 181.1 M454.0 181.1 L459.5 180.4 M454.0 181.1 L456.9 176.3 M466.1 158.7 L455.0 167.8 M455.0 167.8 L460.4 166.6 M455.0 167.8 L457.3 162.7 M466.1 144.0 L456.0 154.2 M456.0 154.2 L461.3 152.4 M456.0 154.2 L457.7 148.9 M466.1 129.1 L455.9 139.3 M455.9 139.3 L461.2 137.5 M455.9 139.3 L457.7 134.0 M466.1 114.2 L455.4 123.8 M455.4 123.8 L460.8 122.3 M455.4 123.8 L457.4 118.6 M466.1 99.1 L455.2 108.5 M455.2 108.5 L460.6 107.1 M455.2 108.5 L457.4 103.3 M466.1 83.9 L455.2 93.3 M455.2 93.3 L460.6 91.9 M455.2 93.3 L457.4 88.2 M466.1 68.6 L455.4 78.2 M455.4 78.2 L460.8 76.7 M455.4 78.2 L457.4 73.0 M466.1 53.1 L455.4 62.8 M455.4 62.8 L460.8 61.3 M455.4 62.8 L457.5 57.6 M466.1 37.5 L455.4 47.1 M455.4 47.1 L460.8 45.6 M455.4 47.1 L457.5 41.9 M479.7 465.5 L468.4 474.5 M468.4 474.5 L473.9 473.3 M468.4 474.5 L470.8 469.4 M479.7 451.9 L467.8 460.0 M467.8 460.0 L473.4 459.2 M467.8 460.0 L470.6 455.1 M479.7 438.3 L467.3 445.6 M467.3 445.6 L472.9 445.2 M467.3 445.6 L470.3 440.9 M479.7 424.7 L466.8 431.2 M466.8 431.2 L472.4 431.1 M466.8 431.2 L470.2 426.7 M479.7 411.1 L466.5 416.8 M466.5 416.8 L472.1 417.1 M466.5 416.8 L470.1 412.5 M479.7 397.4 L466.7 403.5 M466.7 403.5 L472.3 403.6 M466.7 403.5 L470.1 399.1 M479.7 383.8 L467.2 390.9 M467.2 390.9 L472.8 390.6 M467.2 390.9 L470.3 386.2 M479.7 370.1 L467.8 378.2 M467.8 378.2 L473.3 377.4 M467.8 378.2 L470.5 373.3 M479.7 342.6 L468.2 351.3 M468.2 351.3 L473.7 350.2 M468.2 351.3 L470.7 346.3 M479.7 315.0 L468.3 323.7 M468.3 323.7 L473.8 322.7 M468.3 323.7 L470.7 318.7 M479.7 301.1 L468.7 310.4 M468.7 310.4 L474.2 309.1 M468.7 310.4 L470.9 305.3 M479.7 287.2 L469.3 297.2 M469.3 297.2 L474.7 295.5 M469.3 297.2 L471.2 291.9 M479.7 259.1 L469.9 269.7 M469.9 269.7 L475.1 267.7 M469.9 269.7 L471.5 264.3 M479.7 245.0 L469.7 255.4 M469.7 255.4 L475.0 253.5 M469.7 255.4 L471.4 250.1 M479.7 230.8 L469.4 240.9 M469.4 240.9 L474.7 239.2 M469.4 240.9 L471.2 235.6 M479.7 216.6 L468.8 226.0 M468.8 226.0 L474.2 224.6 M468.8 226.0 L471.0 220.8 M479.7 202.2 L468.1 210.8 M468.1 210.8 L473.6 209.8 M468.1 210.8 L470.7 205.8 M479.7 187.8 L467.6 195.6 M467.6 195.6 L473.2 195.0 M467.6 195.6 L470.5 190.8 M479.7 173.3 L467.6 181.1 M467.6 181.1 L473.2 180.5 M467.6 181.1 L470.5 176.3 M479.7 158.7 L468.2 167.3 M468.2 167.3 L473.7 166.3 M468.2 167.3 L470.7 162.3 M479.7 144.0 L468.9 153.4 M468.9 153.4 L474.3 152.0 M468.9 153.4 L471.0 148.3 M479.7 129.1 L468.9 138.7 M468.9 138.7 L474.3 137.2 M468.9 138.7 L471.0 133.5 M479.7 114.2 L468.7 123.5 M468.7 123.5 L474.2 122.1 M468.7 123.5 L470.9 118.4 M479.7 99.1 L468.7 108.4 M468.7 108.4 L474.1 107.0 M468.7 108.4 L470.9 103.2 M479.7 83.9 L468.8 93.3 M468.8 93.3 L474.2 91.9 M468.8 93.3 L471.0 88.1 M479.7 68.6 L469.0 78.3 M469.0 78.3 L474.4 76.7 M469.0 78.3 L471.1 73.0 M479.7 53.1 L469.1 62.9 M469.1 62.9 L474.5 61.3 M469.1 62.9 L471.1 57.6 M479.7 37.5 L469.1 47.2 M469.1 47.2 L474.5 45.7 M469.1 47.2 L471.1 42.0 M493.3 465.5 L483.4 475.9 M483.4 475.9 L488.6 474.0 M483.4 475.9 L485.0 470.6 M493.3 451.9 L482.5 461.4 M482.5 461.4 L487.9 460.0 M482.5 461.4 L484.6 456.2 M493.3 438.3 L481.5 446.5 M481.5 446.5 L487.0 445.7 M481.5 446.5 L484.2 441.6 M493.3 424.7 L480.9 432.0 M480.9 432.0 L486.5 431.6 M480.9 432.0 L484.0 427.3 M493.3 411.1 L480.9 418.4 M480.9 418.4 L486.5 418.0 M480.9 418.4 L484.0 413.7 M493.3 397.4 L481.2 405.2 M481.2 405.2 L486.7 404.6 M481.2 405.2 L484.1 400.4 M493.3 383.8 L481.7 392.2 M481.7 392.2 L487.2 391.3 M481.7 392.2 L484.3 387.3 M493.3 370.1 L482.2 379.2 M482.2 379.2 L487.6 377.9 M482.2 379.2 L484.5 374.1 M493.3 342.6 L482.5 352.1 M482.5 352.1 L487.9 350.7 M482.5 352.1 L484.6 346.9 M493.3 328.8 L482.5 338.3 M482.5 338.3 L487.9 336.9 M482.5 338.3 L484.6 333.1 M493.3 315.0 L482.5 324.5 M482.5 324.5 L487.9 323.1 M482.5 324.5 L484.6 319.3 M493.3 287.2 L482.9 297.1 M482.9 297.1 L488.3 295.5 M482.9 297.1 L484.8 291.9 M493.3 273.2 L483.0 283.3 M483.0 283.3 L488.4 281.5 M483.0 283.3 L484.9 278.0 M493.3 259.1 L483.0 269.2 M483.0 269.2 L488.3 267.5 M483.0 269.2 L484.9 263.9 M493.3 245.0 L482.9 254.9 M482.9 254.9 L488.2 253.3 M482.9 254.9 L484.8 249.7 M493.3 230.8 L482.6 240.5 M482.6 240.5 L488.0 239.0 M482.6 240.5 L484.7 235.3 M493.3 216.6 L482.3 225.9 M482.3 225.9 L487.7 224.5 M482.3 225.9 L484.5 220.7 M493.3 202.2 L481.9 211.0 M481.9 211.0 L487.4 209.9 M481.9 211.0 L484.3 206.0 M493.3 187.8 L481.6 196.1 M481.6 196.1 L487.1 195.3 M481.6 196.1 L484.2 191.2 M493.3 173.3 L481.6 181.6 M481.6 181.6 L487.1 180.7 M481.6 181.6 L484.2 176.7 M493.3 158.7 L481.8 167.4 M481.8 167.4 L487.3 166.3 M481.8 167.4 L484.3 162.4 M493.3 144.0 L482.1 153.0 M482.1 153.0 L487.6 151.8 M482.1 153.0 L484.4 147.9 M493.3 129.1 L482.2 138.3 M482.2 138.3 L487.6 137.0 M482.2 138.3 L484.5 133.2 M493.3 114.2 L482.3 123.4 M482.3 123.4 L487.7 122.1 M482.3 123.4 L484.5 118.3 M493.3 99.1 L482.3 108.4 M482.3 108.4 L487.7 107.1 M482.3 108.4 L484.5 103.3 M493.3 83.9 L482.4 93.4 M482.4 93.4 L487.9 92.0 M482.4 93.4 L484.6 88.2 M493.3 68.6 L482.7 78.4 M482.7 78.4 L488.1 76.8 M482.7 78.4 L484.7 73.1 M493.3 53.1 L482.8 62.9 M482.8 62.9 L488.1 61.3 M482.8 62.9 L484.7 57.7 M493.3 37.5 L482.7 47.3 M482.7 47.3 L488.1 45.7 M482.7 47.3 L484.7 42.0 M506.9 465.5 L499.0 477.5 M499.0 477.5 L503.8 474.7 M499.0 477.5 L499.7 472.0 M506.9 451.9 L498.0 463.2 M498.0 463.2 L503.1 460.8 M498.0 463.2 L499.2 457.7 M506.9 438.3 L496.2 448.0 M496.2 448.0 L501.6 446.4 M496.2 448.0 L498.3 442.8 M506.9 424.7 L494.8 432.5 M494.8 432.5 L500.4 431.9 M494.8 432.5 L497.7 427.7 M506.9 411.1 L495.0 419.2 M495.0 419.2 L500.6 418.4 M495.0 419.2 L497.8 414.3 M506.9 397.4 L496.1 406.9 M496.1 406.9 L501.5 405.5 M496.1 406.9 L498.2 401.7 M506.9 383.8 L496.6 393.8 M496.6 393.8 L501.9 392.1 M496.6 393.8 L498.5 388.5 M506.9 342.6 L496.8 352.9 M496.8 352.9 L502.1 351.0 M496.8 352.9 L498.5 347.5 M506.9 328.8 L496.7 338.9 M496.7 338.9 L502.0 337.2 M496.7 338.9 L498.5 333.6 M506.9 315.0 L496.6 325.0 M496.6 325.0 L501.9 323.3 M496.6 325.0 L498.4 319.7 M506.9 287.2 L496.6 297.2 M496.6 297.2 L501.9 295.5 M496.6 297.2 L498.4 291.9 M506.9 273.2 L496.5 283.1 M496.5 283.1 L501.8 281.5 M496.5 283.1 L498.4 277.9 M506.9 259.1 L496.3 268.9 M496.3 268.9 L501.7 267.3 M496.3 268.9 L498.3 263.7 M506.9 245.0 L496.1 254.5 M496.1 254.5 L501.5 253.1 M496.1 254.5 L498.2 249.3 M506.9 230.8 L495.9 240.1 M495.9 240.1 L501.3 238.8 M495.9 240.1 L498.1 235.0 M506.9 216.6 L495.7 225.7 M495.7 225.7 L501.2 224.4 M495.7 225.7 L498.1 220.6 M506.9 202.2 L495.6 211.2 M495.6 211.2 L501.1 210.0 M495.6 211.2 L498.0 206.1 M506.9 187.8 L495.4 196.5 M495.4 196.5 L500.9 195.5 M495.4 196.5 L497.9 191.5 M506.9 173.3 L495.4 181.9 M495.4 181.9 L500.9 180.9 M495.4 181.9 L497.9 176.9 M506.9 158.7 L495.3 167.2 M495.3 167.2 L500.8 166.2 M495.3 167.2 L497.9 162.2 M506.9 144.0 L495.2 152.4 M495.2 152.4 L500.7 151.5 M495.2 152.4 L497.8 147.4 M506.9 129.1 L495.2 137.5 M495.2 137.5 L500.7 136.6 M495.2 137.5 L497.8 132.6 M506.9 114.2 L495.5 123.0 M495.5 123.0 L501.0 121.9 M495.5 123.0 L498.0 118.0 M506.9 99.1 L495.8 108.3 M495.8 108.3 L501.3 107.0 M495.8 108.3 L498.1 103.2 M506.9 83.9 L496.1 93.5 M496.1 93.5 L501.5 92.0 M496.1 93.5 L498.2 88.3 M506.9 68.6 L496.3 78.4 M496.3 78.4 L501.7 76.8 M496.3 78.4 L498.3 73.1 M506.9 53.1 L496.4 62.9 M496.4 62.9 L501.7 61.3 M496.4 62.9 L498.3 57.7 M506.9 37.5 L496.3 47.3 M496.3 47.3 L501.7 45.7 M496.3 47.3 L498.3 42.0 M520.5 465.5 L515.2 478.9 M515.2 478.9 L519.3 475.1 M515.2 478.9 L514.7 473.3 M520.5 451.9 L514.9 465.2 M514.9 465.2 L519.1 461.5 M514.9 465.2 L514.5 459.6 M520.5 438.3 L513.5 450.9 M513.5 450.9 L518.1 447.7 M513.5 450.9 L513.7 445.3 M520.5 424.7 L513.5 437.3 M513.5 437.3 L518.1 434.1 M513.5 437.3 L513.8 431.7 M520.5 411.1 L513.1 423.4 M513.1 423.4 L517.8 420.4 M513.1 423.4 L513.5 417.8 M520.5 397.4 L512.2 409.2 M512.2 409.2 L517.1 406.5 M512.2 409.2 L513.0 403.6 M520.5 383.8 L511.8 395.2 M511.8 395.2 L516.8 392.7 M511.8 395.2 L512.8 389.7 M520.5 370.1 L511.5 381.3 M511.5 381.3 L516.6 379.0 M511.5 381.3 L512.7 375.9 M520.5 328.8 L510.7 339.3 M510.7 339.3 L515.9 337.4 M510.7 339.3 L512.3 334.0 M520.5 315.0 L510.4 325.2 M510.4 325.2 L515.7 323.4 M510.4 325.2 L512.1 319.9 M520.5 301.1 L510.3 311.3 M510.3 311.3 L515.6 309.5 M510.3 311.3 L512.1 306.0 M520.5 287.2 L510.2 297.3 M510.2 297.3 L515.5 295.5 M510.2 297.3 L512.1 292.0 M520.5 273.2 L510.0 283.1 M510.0 283.1 L515.4 281.4 M510.0 283.1 L512.0 277.8 M520.5 259.1 L509.7 268.7 M509.7 268.7 L515.1 267.2 M509.7 268.7 L511.8 263.5 M520.5 245.0 L509.3 254.1 M509.3 254.1 L514.8 252.9 M509.3 254.1 L511.6 249.0 M520.5 230.8 L509.1 239.7 M509.1 239.7 L514.6 238.6 M509.1 239.7 L511.6 234.6 M520.5 216.6 L509.1 225.4 M509.1 225.4 L514.6 224.3 M509.1 225.4 L511.6 220.4 M520.5 202.2 L509.1 211.1 M509.1 211.1 L514.6 210.0 M509.1 211.1 L511.6 206.0 M520.5 187.8 L509.0 196.5 M509.0 196.5 L514.5 195.5 M509.0 196.5 L511.5 191.5 M520.5 173.3 L508.9 181.8 M508.9 181.8 L514.4 180.8 M508.9 181.8 L511.5 176.8 M520.5 158.7 L508.6 166.8 M508.6 166.8 L514.2 166.0 M508.6 166.8 L511.4 161.9 M520.5 144.0 L508.2 151.5 M508.2 151.5 L513.8 151.0 M508.2 151.5 L511.2 146.7 M520.5 129.1 L508.1 136.4 M508.1 136.4 L513.7 136.0 M508.1 136.4 L511.2 131.7 M520.5 114.2 L508.4 122.0 M508.4 122.0 L514.0 121.3 M508.4 122.0 L511.3 117.2 M520.5 99.1 L509.1 107.9 M509.1 107.9 L514.6 106.8 M509.1 107.9 L511.5 102.8 M520.5 83.9 L509.6 93.3 M509.6 93.3 L515.0 91.9 M509.6 93.3 L511.8 88.2 M520.5 68.6 L509.9 78.3 M509.9 78.3 L515.3 76.8 M509.9 78.3 L511.9 73.1 M520.5 53.1 L509.9 62.9 M509.9 62.9 L515.3 61.3 M509.9 62.9 L511.9 57.7 M520.5 37.5 L509.9 47.3 M509.9 47.3 L515.3 45.7 M509.9 47.3 L511.9 42.0 M534.1 465.5 L530.7 479.5 M530.7 479.5 L534.3 475.2 M530.7 479.5 L529.5 474.0 M534.1 451.9 L531.1 466.0 M531.1 466.0 L534.6 461.6 M531.1 466.0 L529.7 460.6 M534.1 438.3 L529.7 452.0 M529.7 452.0 L533.6 448.0 M529.7 452.0 L528.9 446.5 M534.1 424.7 L528.1 437.8 M528.1 437.8 L532.4 434.2 M528.1 437.8 L527.9 432.2 M534.1 411.1 L528.0 424.1 M528.0 424.1 L532.4 420.6 M528.0 424.1 L527.9 418.5 M534.1 397.4 L527.5 410.2 M527.5 410.2 L532.0 406.9 M527.5 410.2 L527.6 404.6 M534.1 383.8 L526.5 396.0 M526.5 396.0 L531.2 393.0 M526.5 396.0 L527.0 390.4 M534.1 370.1 L525.6 381.7 M525.6 381.7 L530.6 379.1 M525.6 381.7 L526.6 376.2 M534.1 356.3 L525.4 367.8 M525.4 367.8 L530.4 365.3 M525.4 367.8 L526.4 362.3 M534.1 342.6 L525.1 353.8 M525.1 353.8 L530.2 351.5 M525.1 353.8 L526.3 348.3 M534.1 328.8 L524.5 339.5 M524.5 339.5 L529.7 337.4 M524.5 339.5 L526.0 334.1 M534.1 315.0 L524.0 325.2 M524.0 325.2 L529.3 323.4 M524.0 325.2 L525.8 319.9 M534.1 301.1 L523.9 311.3 M523.9 311.3 L529.2 309.5 M523.9 311.3 L525.7 306.0 M534.1 287.2 L523.8 297.3 M523.8 297.3 L529.2 295.5 M523.8 297.3 L525.7 292.0 M534.1 273.2 L523.6 283.0 M523.6 283.0 L529.0 281.4 M523.6 283.0 L525.6 277.8 M534.1 259.1 L523.2 268.6 M523.2 268.6 L528.6 267.2 M523.2 268.6 L525.4 263.4 M534.1 245.0 L522.7 253.9 M522.7 253.9 L528.2 252.7 M522.7 253.9 L525.2 248.8 M534.1 230.8 L522.6 239.5 M522.6 239.5 L528.1 238.5 M522.6 239.5 L525.1 234.5 M534.1 216.6 L522.6 225.3 M522.6 225.3 L528.1 224.2 M522.6 225.3 L525.1 220.3 M534.1 202.2 L522.6 210.9 M522.6 210.9 L528.1 209.9 M522.6 210.9 L525.1 205.9 M534.1 187.8 L522.5 196.3 M522.5 196.3 L528.0 195.4 M522.5 196.3 L525.1 191.3 M534.1 173.3 L522.4 181.6 M522.4 181.6 L527.9 180.7 M522.4 181.6 L525.0 176.7 M534.1 158.7 L522.0 166.5 M522.0 166.5 L527.6 165.9 M522.0 166.5 L524.9 161.7 M534.1 144.0 L521.5 151.0 M521.5 151.0 L527.1 150.7 M521.5 151.0 L524.7 146.4 M534.1 129.1 L521.4 135.9 M521.4 135.9 L527.0 135.7 M521.4 135.9 L524.7 131.4 M534.1 114.2 L521.6 121.3 M521.6 121.3 L527.2 121.0 M521.6 121.3 L524.7 116.7 M534.1 99.1 L522.3 107.4 M522.3 107.4 L527.9 106.6 M522.3 107.4 L525.0 102.5 M534.1 83.9 L523.2 93.3 M523.2 93.3 L528.6 91.9 M523.2 93.3 L525.4 88.2 M534.1 68.6 L523.6 78.4 M523.6 78.4 L529.0 76.8 M523.6 78.4 L525.6 73.2 M534.1 53.1 L523.7 63.0 M523.7 63.0 L529.0 61.4 M523.7 63.0 L525.6 57.8 M534.1 37.5 L523.6 47.4 M523.6 47.4 L529.0 45.7 M523.6 47.4 L525.6 42.1 M547.7 465.5 L544.9 479.6 M544.9 479.6 L548.3 475.2 M544.9 479.6 L543.4 474.2 M547.7 451.9 L545.2 466.1 M545.2 466.1 L548.5 461.6 M545.2 466.1 L543.6 460.7 M547.7 424.7 L544.0 438.6 M544.0 438.6 L547.7 434.4 M544.0 438.6 L542.9 433.1 M547.7 411.1 L543.6 424.9 M543.6 424.9 L547.4 420.8 M543.6 424.9 L542.6 419.3 M547.7 397.4 L542.7 410.9 M542.7 410.9 L546.8 407.1 M542.7 410.9 L542.1 405.4 M547.7 383.8 L540.9 396.4 M540.9 396.4 L545.5 393.2 M540.9 396.4 L541.1 390.8 M547.7 370.1 L539.2 381.7 M539.2 381.7 L544.1 379.1 M539.2 381.7 L540.1 376.2 M547.7 356.3 L539.0 367.9 M539.0 367.9 L544.0 365.3 M539.0 367.9 L540.1 362.3 M547.7 342.6 L538.8 353.9 M538.8 353.9 L543.9 351.5 M538.8 353.9 L540.0 348.5 M547.7 328.8 L538.3 339.7 M538.3 339.7 L543.5 337.5 M538.3 339.7 L539.7 334.3 M547.7 315.0 L537.7 325.4 M537.7 325.4 L543.0 323.5 M537.7 325.4 L539.4 320.0 M547.7 301.1 L537.5 311.3 M537.5 311.3 L542.8 309.5 M537.5 311.3 L539.3 306.0 M547.7 287.2 L537.3 297.1 M537.3 297.1 L542.6 295.4 M537.3 297.1 L539.2 291.8 M547.7 273.2 L537.1 282.9 M537.1 282.9 L542.4 281.3 M537.1 282.9 L539.1 277.7 M547.7 259.1 L536.9 268.6 M536.9 268.6 L542.3 267.2 M536.9 268.6 L539.0 263.5 M547.7 245.0 L536.4 253.9 M536.4 253.9 L541.8 252.8 M536.4 253.9 L538.8 248.8 M547.7 230.8 L536.2 239.5 M536.2 239.5 L541.7 238.5 M536.2 239.5 L538.7 234.5 M547.7 216.6 L536.2 225.3 M536.2 225.3 L541.7 224.2 M536.2 225.3 L538.7 220.3 M547.7 202.2 L536.1 210.8 M536.1 210.8 L541.6 209.8 M536.1 210.8 L538.7 205.8 M547.7 187.8 L535.9 196.1 M535.9 196.1 L541.5 195.3 M535.9 196.1 L538.6 191.2 M547.7 173.3 L535.9 181.6 M535.9 181.6 L541.4 180.7 M535.9 181.6 L538.6 176.6 M547.7 158.7 L535.7 166.6 M535.7 166.6 L541.3 165.9 M535.7 166.6 L538.5 161.8 M547.7 144.0 L535.1 151.0 M535.1 151.0 L540.7 150.7 M535.1 151.0 L538.3 146.4 M547.7 129.1 L535.0 135.9 M535.0 135.9 L540.6 135.7 M535.0 135.9 L538.3 131.4 M547.7 114.2 L535.2 121.3 M535.2 121.3 L540.8 121.0 M535.2 121.3 L538.3 116.6 M547.7 99.1 L536.0 107.4 M536.0 107.4 L541.5 106.6 M536.0 107.4 L538.6 102.5 M547.7 83.9 L537.0 93.6 M537.0 93.6 L542.4 92.0 M537.0 93.6 L539.1 88.4 M547.7 68.6 L537.4 78.7 M537.4 78.7 L542.8 76.9 M537.4 78.7 L539.3 73.4 M547.7 53.1 L537.5 63.2 M537.5 63.2 L542.8 61.5 M537.5 63.2 L539.3 57.9 M547.7 37.5 L537.4 47.5 M537.4 47.5 L542.7 45.8 M537.4 47.5 L539.2 42.2 M561.3 465.5 L558.9 479.7 M558.9 479.7 L562.2 475.2 M558.9 479.7 L557.3 474.3 M561.3 451.9 L559.0 466.1 M559.0 466.1 L562.3 461.6 M559.0 466.1 L557.4 460.8 M561.3 438.3 L558.5 452.4 M558.5 452.4 L561.9 448.0 M558.5 452.4 L557.0 447.0 M561.3 424.7 L558.7 438.8 M558.7 438.8 L562.0 434.4 M558.7 438.8 L557.2 433.5 M561.3 411.1 L558.3 425.1 M558.3 425.1 L561.8 420.8 M558.3 425.1 L556.9 419.7 M561.3 397.4 L557.4 411.3 M557.4 411.3 L561.2 407.1 M557.4 411.3 L556.4 405.8 M561.3 383.8 L556.0 397.1 M556.0 397.1 L560.1 393.4 M556.0 397.1 L555.5 391.5 M561.3 370.1 L553.2 381.9 M553.2 381.9 L558.0 379.2 M553.2 381.9 L553.9 376.4 M561.3 356.3 L552.7 367.9 M552.7 367.9 L557.7 365.3 M552.7 367.9 L553.7 362.4 M561.3 342.6 L552.2 353.8 M552.2 353.8 L557.3 351.5 M552.2 353.8 L553.5 348.3 M561.3 328.8 L552.0 339.8 M552.0 339.8 L557.2 337.6 M552.0 339.8 L553.4 334.4 M561.3 315.0 L551.7 325.7 M551.7 325.7 L556.9 323.6 M551.7 325.7 L553.2 320.3 M561.3 301.1 L551.1 311.2 M551.1 311.2 L556.4 309.5 M551.1 311.2 L552.9 305.9 M561.3 287.2 L550.6 296.8 M550.6 296.8 L556.0 295.3 M550.6 296.8 L552.7 291.6 M561.3 273.2 L550.6 282.8 M550.6 282.8 L556.0 281.3 M550.6 282.8 L552.7 277.6 M561.3 259.1 L550.6 268.7 M550.6 268.7 L556.0 267.2 M550.6 268.7 L552.6 263.5 M561.3 245.0 L550.2 254.2 M550.2 254.2 L555.6 252.9 M550.2 254.2 L552.5 249.1 M561.3 230.8 L549.9 239.7 M549.9 239.7 L555.4 238.6 M549.9 239.7 L552.4 234.6 M561.3 216.6 L549.9 225.3 M549.9 225.3 L555.4 224.3 M549.9 225.3 L552.3 220.3 M561.3 202.2 L549.7 210.7 M549.7 210.7 L555.2 209.8 M549.7 210.7 L552.3 205.7 M561.3 187.8 L549.5 196.1 M549.5 196.1 L555.0 195.2 M549.5 196.1 L552.2 191.2 M561.3 173.3 L549.5 181.6 M549.5 181.6 L555.0 180.7 M549.5 181.6 L552.2 176.6 M561.3 158.7 L549.4 166.8 M549.4 166.8 L555.0 166.0 M549.4 166.8 L552.2 161.9 M561.3 144.0 L549.0 151.5 M549.0 151.5 L554.6 151.0 M549.0 151.5 L552.0 146.7 M561.3 129.1 L548.8 136.3 M548.8 136.3 L554.4 136.0 M548.8 136.3 L551.9 131.7 M561.3 114.2 L549.0 121.7 M549.0 121.7 L554.6 121.2 M549.0 121.7 L552.0 117.0 M561.3 99.1 L549.8 107.8 M549.8 107.8 L555.3 106.8 M549.8 107.8 L552.3 102.8 M561.3 83.9 L550.8 93.7 M550.8 93.7 L556.1 92.1 M550.8 93.7 L552.7 88.5 M561.3 68.6 L551.1 78.7 M551.1 78.7 L556.4 77.0 M551.1 78.7 L552.9 73.4 M561.3 53.1 L551.1 63.3 M551.1 63.3 L556.4 61.5 M551.1 63.3 L552.9 58.0 M561.3 37.5 L551.0 47.6 M551.0 47.6 L556.4 45.8 M551.0 47.6 L552.9 42.3 M574.9 465.5 L572.7 479.7 M572.7 479.7 L575.9 475.2 M572.7 479.7 L571.0 474.4 M574.9 451.9 L572.8 466.1 M572.8 466.1 L576.0 461.5 M572.8 466.1 L571.1 460.8 M574.9 438.3 L572.2 452.4 M572.2 452.4 L575.6 448.0 M572.2 452.4 L570.7 447.0 M574.9 424.7 L571.8 438.8 M571.8 438.8 L575.3 434.4 M571.8 438.8 L570.5 433.3 M574.9 411.1 L571.3 425.0 M571.3 425.0 L575.0 420.8 M571.3 425.0 L570.2 419.5 M574.9 397.4 L571.1 411.3 M571.1 411.3 L574.8 407.1 M571.1 411.3 L570.0 405.8 M574.9 383.8 L570.3 397.4 M570.3 397.4 L574.2 393.4 M570.3 397.4 L569.5 391.8 M574.9 370.1 L567.7 382.6 M567.7 382.6 L572.4 379.4 M567.7 382.6 L568.1 377.0 M574.9 356.3 L566.4 368.0 M566.4 368.0 L571.4 365.4 M566.4 368.0 L567.4 362.5 M574.9 342.6 L565.7 353.7 M565.7 353.7 L570.9 351.4 M565.7 353.7 L567.0 348.3 M574.9 328.8 L565.6 339.8 M565.6 339.8 L570.8 337.6 M565.6 339.8 L567.0 334.4 M574.9 315.0 L565.5 325.9 M565.5 325.9 L570.7 323.7 M565.5 325.9 L566.9 320.5 M574.9 301.1 L564.8 311.4 M564.8 311.4 L570.1 309.5 M564.8 311.4 L566.6 306.1 M574.9 287.2 L564.3 297.0 M564.3 297.0 L569.7 295.4 M564.3 297.0 L566.3 291.7 M574.9 273.2 L564.3 282.9 M564.3 282.9 L569.6 281.3 M564.3 282.9 L566.3 277.7 M574.9 259.1 L564.2 268.8 M564.2 268.8 L569.6 267.3 M564.2 268.8 L566.3 263.6 M574.9 245.0 L564.0 254.4 M564.0 254.4 L569.4 253.0 M564.0 254.4 L566.2 249.2 M574.9 230.8 L563.7 239.9 M563.7 239.9 L569.2 238.7 M563.7 239.9 L566.0 234.8 M574.9 216.6 L563.5 225.4 M563.5 225.4 L569.0 224.3 M563.5 225.4 L566.0 220.4 M574.9 202.2 L563.3 210.8 M563.3 210.8 L568.8 209.8 M563.3 210.8 L565.9 205.8 M574.9 187.8 L563.1 196.1 M563.1 196.1 L568.7 195.3 M563.1 196.1 L565.8 191.2 M574.9 173.3 L563.1 181.6 M563.1 181.6 L568.7 180.7 M563.1 181.6 L565.8 176.7 M574.9 158.7 L563.1 166.9 M563.1 166.9 L568.6 166.1 M563.1 166.9 L565.8 162.0 M574.9 144.0 L562.9 151.9 M562.9 151.9 L568.5 151.2 M562.9 151.9 L565.7 147.1 M574.9 129.1 L562.8 137.0 M562.8 137.0 L568.4 136.3 M562.8 137.0 L565.7 132.1 M574.9 114.2 L563.0 122.3 M563.0 122.3 L568.6 121.5 M563.0 122.3 L565.8 117.4 M574.9 99.1 L563.6 108.1 M563.6 108.1 L569.1 106.9 M563.6 108.1 L566.0 103.0 M574.9 83.9 L564.4 93.7 M564.4 93.7 L569.7 92.1 M564.4 93.7 L566.3 88.5 M574.9 68.6 L564.6 78.7 M564.6 78.7 L570.0 76.9 M564.6 78.7 L566.5 73.4 M574.9 53.1 L564.7 63.2 M564.7 63.2 L570.0 61.5 M564.7 63.2 L566.5 57.9 M574.9 37.5 L564.6 47.5 M564.6 47.5 L569.9 45.8 M564.6 47.5 L566.5 42.3"/>
</g>
<g fill="#c3c1c3" stroke="#000" stroke-width="1.3" stroke-linejoin="round">
<path d="M462.7 36.1 L462.7 38.1 L465.9 40.6 L465.3 43.1 L461.0 45.2 L459.4 47.4 L460.0 51.1 L459.4 54.9 L461.6 57.0 L458.4 59.2 L458.4 61.8 L455.7 63.5 L454.6 66.1 L452.5 68.3 L449.3 67.7 L448.2 69.3 L450.3 70.9 L448.7 74.2 L447.7 76.8 L446.1 80.1 L443.4 82.2 L442.3 84.9 L438.6 86.5 L434.3 87.0 L433.2 89.7 L434.5 93.0 L435.0 98.0 L432.8 104.0 L428.0 108.8 L424.8 112.9 L421.6 116.9 L416.7 119.3 L410.3 122.5 L411.1 126.5 L405.5 129.7 L402.3 132.9 L397.5 134.5 L393.5 137.8 L391.8 142.6 L387.0 145.8 L381.4 146.6 L376.6 147.4 L371.8 147.9 L367.8 147.9 L364.5 149.8 L359.7 151.4 L355.7 151.4 L354.1 148.2 L352.5 144.2 L350.1 144.2 L350.6 148.2 L349.3 153.0 L346.1 153.8 L344.5 157.0 L341.2 159.4 L336.4 161.0 L332.4 161.8 L330.0 163.7 L327.6 163.7 L323.5 165.3 L318.7 166.1 L314.7 167.7 L310.7 169.3 L308.3 172.5 L309.1 176.5 L310.7 179.7 L309.9 182.9 L308.3 184.1 L305.1 183.7 L303.5 181.3 L301.8 178.1 L300.7 174.1 L301.8 170.1 L303.5 166.9 L300.2 165.3 L297.8 162.9 L294.6 165.3 L291.4 164.5 L288.2 162.9 L285.0 161.2 L281.8 163.7 L278.6 164.5 L274.5 166.1 L271.3 168.5 L268.9 171.7 L264.1 173.3 L259.3 174.1 L258.5 177.3 L257.7 181.3 L253.7 184.5 L250.4 187.8 L248.8 191.8 L247.2 196.6 L245.1 202.2 L247.2 206.2 L251.2 210.2 L255.3 214.3 L256.9 219.1 L259.3 223.1 L263.3 227.1 L266.5 231.1 L270.7 235.4 L275.5 239.5 L280.3 243.5 L285.1 248.3 L288.4 253.1 L290.0 258.7 L291.9 264.4 L293.2 270.8 L294.0 276.4 L294.8 282.0 L297.2 288.5 L294.8 292.5 L293.2 297.3 L292.4 302.9 L291.6 308.5 L289.2 312.6 L286.7 315.0 L283.1 313.4 L277.4 316.2 L271.8 319.0 L267.1 321.9 L262.4 323.7 L258.7 327.5 L255.9 332.2 L251.2 335.9 L245.6 339.7 L240.0 344.3 L235.3 347.2 L234.0 341.5 L234.3 335.0 L235.3 327.5 L233.4 321.9 L228.7 323.7 L224.0 324.7 L220.3 322.8 L216.5 320.0 L217.5 320.0 L219.9 316.7 L217.5 313.5 L215.1 315.9 L211.8 313.5 L210.2 308.7 L207.8 304.7 L205.4 300.7 L201.4 298.3 L198.2 295.1 L194.2 291.8 L189.4 291.8 L184.5 293.0 L180.5 291.0 L181.3 286.2 L182.1 281.4 L176.5 280.1 L170.9 280.6 L167.7 283.0 L169.0 287.0 L168.5 294.3 L168.0 299.1 L165.3 303.9 L163.7 308.7 L161.2 313.5 L159.6 320.0 L158.6 335.4 L159.6 340.2 L163.9 339.1 L166.6 340.7 L167.7 345.0 L169.3 348.7 L172.0 351.4 L173.0 356.2 L173.6 361.1 L175.2 365.3 L177.8 368.6 L182.1 371.2 L188.0 372.3 L191.2 373.9 L193.4 377.1 L197.1 380.3 L200.3 381.9 L203.5 384.6 L206.8 387.8 L208.9 390.0 L209.4 389.6 L211.8 393.7 L213.9 397.7 L215.1 402.5 L215.1 408.1 L214.3 413.7 L215.1 419.4 L215.9 425.0 L218.3 429.0 L220.7 433.0 L223.1 437.0 L224.7 441.0 L225.5 444.3 L223.1 445.9 L219.1 446.7 L215.1 445.9 L211.8 443.5 L207.8 441.8 L203.8 439.4 L199.8 437.0 L195.8 434.6 L191.8 431.4 L188.6 428.2 L186.1 425.0 L184.5 421.0 L182.1 417.8 L180.5 412.9 L178.1 408.9 L177.3 404.1 L176.5 399.3 L174.1 394.5 L172.5 389.6 L174.1 387.8 L173.0 384.6 L172.0 380.9 L170.9 377.1 L168.7 373.9 L166.6 371.2 L165.0 368.0 L162.9 365.3 L160.2 361.6 L158.0 358.4 L155.4 356.8 L152.1 356.8 L150.0 30.0 L465.0 30.0 Z"/>
<path d="M286.6 198.2 L288.2 195.8 L292.2 194.2 L295.4 192.1 L299.4 191.0 L304.3 189.4 L309.1 188.2 L313.9 187.8 L317.1 189.4 L317.9 192.6 L315.5 196.6 L313.1 201.4 L310.7 205.4 L306.7 208.6 L301.8 211.8 L296.2 213.0 L291.4 211.0 L288.2 208.6 L286.3 204.6 L286.1 200.6 Z"/>
<path d="M461.4 110.7 L463.5 111.8 L465.7 113.9 L464.6 116.1 L465.2 119.3 L465.7 122.5 L464.1 126.2 L462.5 130.0 L461.4 134.3 L459.8 138.6 L458.2 142.8 L456.6 146.1 L454.4 148.7 L452.8 151.9 L452.3 155.7 L451.2 158.4 L450.2 157.3 L449.1 153.5 L446.9 150.9 L444.3 148.2 L442.7 145.0 L442.1 140.7 L442.7 136.4 L443.7 132.1 L445.9 128.4 L448.0 124.6 L450.2 120.9 L452.3 117.7 L454.4 114.5 L457.1 112.9 L459.8 111.6 Z"/>
<path d="M151.6 416.1 L154.8 416.1 L158.8 418.6 L162.9 421.0 L166.1 424.2 L168.5 428.2 L171.7 430.6 L174.9 433.8 L178.1 436.2 L181.3 435.4 L184.5 436.2 L187.8 438.6 L188.6 441.8 L192.6 441.8 L195.8 444.3 L198.2 447.5 L201.4 451.5 L206.2 453.1 L210.2 455.5 L213.5 457.1 L211.0 459.5 L206.2 461.1 L209.4 461.9 L214.3 460.3 L217.5 461.9 L220.7 464.3 L221.5 470.0 L162.9 470.0 L162.9 464.3 L158.8 461.9 L156.4 458.7 L154.8 453.1 L151.6 452.3 Z"/>
<path d="M290.4 472.7 L290.4 464.4 L289.5 457.9 L290.4 451.4 L292.3 444.9 L296.0 440.3 L298.7 439.3 L301.5 442.1 L305.2 444.0 L309.9 443.0 L314.5 444.0 L319.1 444.0 L320.1 439.3 L321.0 433.8 L322.8 429.1 L327.5 426.4 L334.0 424.5 L340.5 423.6 L346.0 421.7 L349.7 417.1 L353.4 412.4 L357.2 407.8 L360.9 404.1 L365.5 400.4 L370.1 397.6 L373.8 396.7 L377.5 393.9 L381.3 390.2 L385.0 386.5 L388.7 381.9 L388.6 383.5 L391.8 378.7 L395.8 374.7 L396.6 370.7 L398.2 373.9 L400.6 370.7 L403.0 374.7 L407.0 377.9 L409.4 381.9 L413.5 383.5 L417.5 387.6 L406.0 376.2 L409.5 383.4 L414.3 387.0 L422.7 389.3 L429.8 392.9 L426.2 396.5 L417.9 398.9 L415.5 402.5 L421.5 404.8 L414.3 408.4 L408.3 407.2 L409.5 413.2 L404.8 416.8 L409.5 421.5 L411.9 428.7 L410.7 437.0 L416.7 444.2 L422.7 449.0 L425.0 452.5 L419.1 453.7 L413.1 451.3 L409.5 454.9 L407.2 460.9 L404.8 469.2 Z"/>
<path d="M448.1 210.6 L450.9 207.8 L456.5 208.7 L462.2 211.6 L466.9 212.5 L469.7 209.7 L471.5 213.4 L469.7 217.2 L470.6 222.8 L473.4 227.5 L474.3 232.2 L471.5 236.9 L468.7 241.5 L465.0 246.2 L462.2 250.9 L458.7 254.3 L459.8 257.5 L461.4 260.7 L462.0 263.9 L463.0 267.7 L464.1 270.9 L466.2 273.0 L468.9 275.2 L471.6 276.8 L473.7 278.9 L475.3 281.6 L475.9 284.3 L474.8 284.8 L473.2 281.6 L471.1 278.9 L468.4 276.8 L465.7 275.2 L463.0 273.6 L460.3 275.7 L457.7 278.4 L455.0 277.8 L452.3 276.2 L450.2 274.1 L449.1 271.4 L450.7 269.3 L453.4 267.7 L453.9 265.0 L451.8 262.9 L448.6 263.9 L446.4 266.1 L445.4 263.4 L443.2 261.2 L441.1 260.7 L440.0 259.6 L441.6 254.7 L439.7 248.1 L437.8 244.3 L443.4 241.5 L444.4 235.9 L446.2 229.4 L445.3 222.8 L447.2 216.2 Z"/>
<path d="M471.9 270.1 L475.9 269.1 L479.1 270.6 L480.9 273.8 L482.6 276.6 L485.0 275.1 L488.0 275.1 L489.9 278.5 L491.0 281.9 L492.5 285.9 L491.8 288.6 L488.4 287.5 L486.1 284.8 L484.3 281.7 L482.2 279.1 L480.1 277.6 L477.5 276.1 L475.3 274.1 L472.1 273.1 Z"/>
<path d="M496.2 273.0 L498.4 272.5 L499.4 275.7 L498.4 279.5 L496.2 278.9 Z"/>
<path d="M447.0 281.6 L450.7 281.1 L455.0 282.1 L458.2 284.3 L459.8 288.0 L459.3 292.3 L457.7 296.1 L456.1 297.7 L454.5 295.5 L452.3 291.8 L450.7 287.5 L449.1 284.3 Z"/>
<path d="M485.0 295.0 L487.7 295.5 L490.3 297.7 L493.0 299.8 L494.6 301.9 L496.8 304.1 L496.2 305.2 L493.0 303.0 L490.3 300.9 L487.7 298.7 L485.0 297.1 Z"/>
<path d="M499.4 295.0 L503.2 294.4 L508.5 293.4 L511.8 295.0 L513.4 298.2 L514.4 301.4 L515.0 305.7 L514.3 300.9 L515.3 305.7 L515.9 310.0 L513.7 312.1 L511.0 311.1 L508.9 307.9 L507.8 304.6 L505.2 302.5 L502.5 300.4 L500.3 297.7 L503.2 298.7 L500.0 297.1 Z"/>
<path d="M500.3 311.1 L503.5 311.1 L506.2 310.0 L507.3 312.7 L506.2 315.9 L507.3 319.1 L509.4 321.8 L510.5 325.0 L509.4 326.6 L506.8 326.1 L505.2 322.8 L504.1 319.1 L502.5 316.4 L500.3 314.3 Z"/>
<path d="M466.1 303.0 L469.3 304.6 L473.0 306.8 L476.8 308.4 L481.1 308.4 L482.7 310.0 L481.1 312.7 L477.8 314.8 L474.6 317.0 L471.4 319.1 L468.2 321.2 L466.6 320.2 L467.1 316.4 L467.7 312.1 L468.2 307.9 L467.1 305.2 Z"/>
<path d="M482.1 316.4 L485.3 315.9 L486.9 318.0 L486.4 321.8 L485.3 326.1 L484.3 330.3 L483.7 334.6 L484.8 337.8 L483.2 341.1 L481.1 341.6 L479.5 338.9 L477.3 336.2 L474.1 334.1 L473.0 331.9 L475.7 330.9 L477.8 329.3 L479.5 325.5 L480.5 321.2 L481.1 318.0 Z"/>
<path d="M492.8 317.0 L493.9 319.1 L493.4 322.3 L491.8 325.5 L489.6 328.7 L487.5 331.9 L485.9 335.7 L484.8 336.2 L485.3 333.0 L486.9 329.3 L489.1 325.5 L490.7 321.8 L491.8 318.6 Z"/>
<path d="M492.8 329.8 L496.1 328.2 L498.7 327.7 L500.3 329.8 L498.7 332.5 L495.5 333.6 L492.8 332.5 Z"/>
<path d="M399.6 356.9 L403.7 352.0 L406.9 347.2 L411.7 342.4 L416.5 338.4 L420.5 334.4 L423.7 330.4 L427.8 326.3 L431.8 323.1 L435.0 320.7 L435.0 318.0 L433.2 316.1 L431.6 316.1 L428.9 321.0 L424.9 325.1 L420.8 328.3 L417.6 332.3 L413.6 335.5 L408.8 339.5 L404.8 344.3 L401.6 348.4 L398.4 353.2 L398.0 355.9 Z"/>
<path d="M514.3 333.0 L516.9 335.2 L519.6 337.8 L522.3 341.6 L524.4 345.3 L526.0 349.6 L527.1 355.0 L528.7 360.0 L530.6 365.6 L529.6 371.2 L527.8 374.9 L528.8 363.1 L527.6 370.3 L524.0 376.2 L522.8 371.5 L519.2 367.9 L516.8 372.7 L518.0 378.6 L514.4 383.4 L509.7 384.6 L502.5 381.0 L497.8 376.2 L495.4 370.3 L496.6 364.3 L493.0 360.7 L489.4 358.3 L482.3 360.7 L477.5 360.7 L472.7 364.3 L470.3 370.3 L467.5 371.9 L466.3 367.9 L469.1 363.1 L472.7 358.3 L478.7 353.6 L481.1 355.0 L482.1 351.2 L484.8 348.5 L488.0 348.0 L491.2 349.6 L492.8 352.8 L495.0 354.4 L497.1 353.9 L499.3 351.8 L502.5 350.7 L504.6 348.5 L505.2 345.3 L506.8 343.2 L510.0 343.2 L512.7 341.1 L513.2 336.8 Z"/>
<path d="M438.3 463.4 L440.1 459.8 L441.9 456.2 L444.9 454.4 L447.9 453.2 L450.9 450.3 L452.6 447.9 L455.6 447.9 L458.6 449.1 L461.0 451.5 L465.8 451.5 L470.5 452.1 L475.3 453.2 L480.1 453.8 L483.6 453.2 L488.4 453.2 L493.2 453.2 L496.7 452.6 L500.3 450.3 L502.7 446.7 L505.1 444.3 L507.5 442.5 L509.3 443.1 L509.9 444.9 L508.7 446.7 L506.9 449.7 L504.5 452.6 L501.5 455.6 L498.5 458.6 L494.4 459.2 L490.8 461.0 L486.0 461.2 L482.4 459.8 L480.1 458.6 L475.3 458.6 L470.5 458.8 L465.8 459.2 L461.0 458.6 L456.2 459.2 L452.6 458.6 L449.7 458.0 L446.7 458.0 L444.3 459.8 L441.9 461.6 L440.1 464.6 L438.9 465.2 Z"/>
<path d="M541.5 452.0 L542.0 445.0 L544.0 439.0 L547.0 437.5 L549.5 439.0 L549.0 445.0 L547.0 450.0 L545.0 453.0 Z"/>
<path d="M548.5 455.0 L551.0 450.0 L555.0 446.0 L558.5 445.0 L559.0 449.0 L557.0 455.0 L553.0 459.0 L549.0 461.0 L547.0 465.0 L546.0 468.0 L543.0 468.0 L544.0 461.0 Z"/>
<path d="M552.0 436.5 L553.5 432.0 L556.5 430.5 L558.0 433.0 L556.0 437.0 L553.0 438.0 Z"/>
</g>
<g fill="#000" stroke="#000" stroke-width="1" stroke-linejoin="round">
</g>
<g fill="#000" shape-rendering="crispEdges">
<path d="M463 36 h3 v3 h-3 z M463 38 h2 v2 h-2 z M464 39 h3 v3 h-3 z M463 39 h3 v3 h-3 z M464 41 h2 v2 h-2 z M466 40 h2 v2 h-2 z M464 42 h3 v3 h-3 z M464 42 h2 v2 h-2 z M462 44 h3 v3 h-3 z M462 44 h3 v3 h-3 z M462 45 h3 v3 h-3 z M462 46 h2 v2 h-2 z M460 47 h3 v3 h-3 z M461 47 h2 v2 h-2 z M461 47 h4 v4 h-4 z M460 48 h4 v4 h-4 z M461 49 h3 v3 h-3 z M460 51 h3 v3 h-3 z M459 52 h4 v4 h-4 z M460 52 h2 v2 h-2 z M459 53 h3 v3 h-3 z M461 54 h2 v2 h-2 z M459 54 h3 v3 h-3 z M460 55 h4 v4 h-4 z M461 57 h2 v2 h-2 z M460 58 h2 v2 h-2 z M460 58 h4 v4 h-4 z M459 58 h3 v3 h-3 z M460 59 h3 v3 h-3 z M460 59 h3 v3 h-3 z M458 62 h3 v3 h-3 z M457 61 h4 v4 h-4 z M458 63 h3 v3 h-3 z M458 64 h3 v3 h-3 z M458 62 h4 v4 h-4 z M456 64 h3 v3 h-3 z M456 66 h2 v2 h-2 z M455 65 h3 v3 h-3 z M455 66 h3 v3 h-3 z M455 67 h3 v3 h-3 z M454 68 h2 v2 h-2 z M452 67 h4 v4 h-4 z M451 67 h4 v4 h-4 z M452 69 h2 v2 h-2 z M451 68 h2 v2 h-2 z M451 70 h2 v2 h-2 z M450 70 h3 v3 h-3 z M449 71 h3 v3 h-3 z M449 73 h3 v3 h-3 z M447 73 h4 v4 h-4 z M448 73 h4 v4 h-4 z M447 74 h3 v3 h-3 z M447 76 h3 v3 h-3 z M446 78 h2 v2 h-2 z M445 78 h3 v3 h-3 z M447 79 h2 v2 h-2 z M446 78 h2 v2 h-2 z M446 79 h3 v3 h-3 z M444 81 h3 v3 h-3 z M444 81 h3 v3 h-3 z M444 82 h3 v3 h-3 z M442 82 h3 v3 h-3 z M444 84 h2 v2 h-2 z M441 83 h4 v4 h-4 z M441 85 h3 v3 h-3 z M441 84 h3 v3 h-3 z M438 85 h3 v3 h-3 z M438 86 h3 v3 h-3 z M438 87 h2 v2 h-2 z M439 86 h2 v2 h-2 z M437 88 h4 v4 h-4 z M437 88 h4 v4 h-4 z M435 90 h3 v3 h-3 z M435 90 h4 v4 h-4 z M435 90 h2 v2 h-2 z M434 91 h3 v3 h-3 z M435 90 h4 v4 h-4 z M435 92 h4 v4 h-4 z M434 94 h3 v3 h-3 z M436 96 h2 v2 h-2 z M436 95 h4 v4 h-4 z M435 96 h3 v3 h-3 z M436 96 h3 v3 h-3 z M436 96 h4 v4 h-4 z M436 99 h3 v3 h-3 z M435 100 h4 v4 h-4 z M434 101 h3 v3 h-3 z M435 103 h2 v2 h-2 z M435 101 h2 v2 h-2 z M433 103 h3 v3 h-3 z M432 104 h2 v2 h-2 z M432 103 h4 v4 h-4 z M431 105 h2 v2 h-2 z M431 106 h2 v2 h-2 z M430 107 h2 v2 h-2 z M430 106 h3 v3 h-3 z M428 106 h4 v4 h-4 z M429 109 h3 v3 h-3 z M428 108 h3 v3 h-3 z M427 110 h2 v2 h-2 z M425 110 h3 v3 h-3 z M426 111 h3 v3 h-3 z M426 112 h3 v3 h-3 z M424 113 h3 v3 h-3 z M423 114 h4 v4 h-4 z M424 113 h4 v4 h-4 z M422 115 h3 v3 h-3 z M421 115 h4 v4 h-4 z M421 116 h3 v3 h-3 z M422 116 h3 v3 h-3 z M421 118 h2 v2 h-2 z M420 117 h3 v3 h-3 z M420 117 h3 v3 h-3 z M418 120 h3 v3 h-3 z M417 119 h3 v3 h-3 z M418 120 h4 v4 h-4 z M416 120 h3 v3 h-3 z M416 119 h4 v4 h-4 z M416 121 h2 v2 h-2 z M414 121 h2 v2 h-2 z M414 122 h2 v2 h-2 z M411 124 h3 v3 h-3 z M410 124 h4 v4 h-4 z M412 123 h4 v4 h-4 z M410 125 h3 v3 h-3 z M412 125 h2 v2 h-2 z M409 126 h3 v3 h-3 z M409 126 h3 v3 h-3 z M408 127 h4 v4 h-4 z M409 129 h3 v3 h-3 z M407 129 h2 v2 h-2 z M407 128 h3 v3 h-3 z M405 130 h4 v4 h-4 z M405 130 h4 v4 h-4 z M405 130 h4 v4 h-4 z M404 131 h3 v3 h-3 z M402 131 h3 v3 h-3 z M404 131 h2 v2 h-2 z M402 131 h3 v3 h-3 z M402 133 h4 v4 h-4 z M401 134 h3 v3 h-3 z M400 135 h2 v2 h-2 z M398 135 h4 v4 h-4 z M399 137 h3 v3 h-3 z M398 137 h3 v3 h-3 z M397 136 h3 v3 h-3 z M396 137 h4 v4 h-4 z M396 139 h3 v3 h-3 z M395 139 h2 v2 h-2 z M394 139 h4 v4 h-4 z M394 139 h3 v3 h-3 z M394 140 h3 v3 h-3 z M393 140 h4 v4 h-4 z M390 141 h4 v4 h-4 z M390 142 h3 v3 h-3 z M390 142 h4 v4 h-4 z M389 142 h3 v3 h-3 z M390 142 h2 v2 h-2 z M387 141 h3 v3 h-3 z M388 142 h3 v3 h-3 z M386 143 h4 v4 h-4 z M385 143 h3 v3 h-3 z M386 145 h2 v2 h-2 z M385 144 h2 v2 h-2 z M383 144 h4 v4 h-4 z M382 146 h3 v3 h-3 z M382 147 h3 v3 h-3 z M381 145 h4 v4 h-4 z M380 147 h3 v3 h-3 z M378 147 h3 v3 h-3 z M434 87 h3 v3 h-3 z M433 86 h3 v3 h-3 z M436 87 h3 v3 h-3 z M436 88 h3 v3 h-3 z M436 89 h3 v3 h-3 z M438 90 h2 v2 h-2 z M438 91 h3 v3 h-3 z M437 91 h2 v2 h-2 z M437 92 h4 v4 h-4 z M436 93 h3 v3 h-3 z M437 94 h3 v3 h-3 z M437 96 h3 v3 h-3 z M366 151 h3 v3 h-3 z M364 149 h4 v4 h-4 z M365 151 h4 v4 h-4 z M363 151 h3 v3 h-3 z M364 151 h2 v2 h-2 z M362 151 h3 v3 h-3 z M361 153 h3 v3 h-3 z M360 152 h3 v3 h-3 z M360 153 h4 v4 h-4 z M359 154 h3 v3 h-3 z M358 153 h2 v2 h-2 z M357 153 h3 v3 h-3 z M355 154 h3 v3 h-3 z M355 154 h3 v3 h-3 z M356 155 h2 v2 h-2 z M354 153 h3 v3 h-3 z M353 153 h4 v4 h-4 z M353 153 h3 v3 h-3 z M351 151 h3 v3 h-3 z M351 151 h3 v3 h-3 z M351 150 h3 v3 h-3 z M351 149 h4 v4 h-4 z M351 148 h3 v3 h-3 z M351 147 h4 v4 h-4 z M352 146 h3 v3 h-3 z M351 145 h3 v3 h-3 z M350 144 h3 v3 h-3 z M347 157 h2 v2 h-2 z M346 158 h2 v2 h-2 z M345 158 h2 v2 h-2 z M344 158 h2 v2 h-2 z M343 158 h2 v2 h-2 z M341 159 h2 v2 h-2 z M342 159 h2 v2 h-2 z M341 160 h2 v2 h-2 z M341 159 h2 v2 h-2 z M339 160 h2 v2 h-2 z M338 160 h2 v2 h-2 z M338 161 h2 v2 h-2 z M337 160 h2 v2 h-2 z M334 162 h2 v2 h-2 z M336 161 h2 v2 h-2 z M334 161 h2 v2 h-2 z M333 162 h2 v2 h-2 z M332 163 h2 v2 h-2 z M332 162 h2 v2 h-2 z M329 162 h2 v2 h-2 z M257 176 h2 v2 h-2 z M259 175 h2 v2 h-2 z M259 174 h2 v2 h-2 z M259 174 h2 v2 h-2 z M259 174 h2 v2 h-2 z M261 173 h2 v2 h-2 z M262 172 h2 v2 h-2 z M262 172 h2 v2 h-2 z M263 172 h2 v2 h-2 z M263 171 h2 v2 h-2 z M265 171 h2 v2 h-2 z M266 170 h2 v2 h-2 z M267 170 h2 v2 h-2 z M268 170 h2 v2 h-2 z M269 170 h2 v2 h-2 z M270 169 h2 v2 h-2 z M270 168 h2 v2 h-2 z M272 168 h2 v2 h-2 z M272 167 h2 v2 h-2 z M258 174 h3 v3 h-3 z M258 175 h2 v2 h-2 z M259 173 h2 v2 h-2 z M261 173 h2 v2 h-2 z M213 448 h2 v2 h-2 z M214 450 h2 v2 h-2 z M214 450 h2 v2 h-2 z M216 451 h2 v2 h-2 z M217 451 h2 v2 h-2 z M218 452 h2 v2 h-2 z M217 451 h2 v2 h-2 z M219 452 h2 v2 h-2 z M220 453 h2 v2 h-2 z M220 453 h2 v2 h-2 z M223 453 h2 v2 h-2 z M222 454 h2 v2 h-2 z M223 454 h2 v2 h-2 z M223 455 h2 v2 h-2 z M225 455 h2 v2 h-2 z M225 455 h2 v2 h-2 z M226 456 h2 v2 h-2 z M227 457 h2 v2 h-2 z M227 457 h2 v2 h-2 z M228 458 h2 v2 h-2 z M229 458 h2 v2 h-2 z M229 459 h2 v2 h-2 z M229 460 h2 v2 h-2 z M231 460 h2 v2 h-2 z M231 460 h2 v2 h-2 z M232 461 h2 v2 h-2 z M233 461 h2 v2 h-2 z M219 448 h2 v2 h-2 z M220 448 h2 v2 h-2 z M221 449 h2 v2 h-2 z M222 449 h2 v2 h-2 z M223 450 h2 v2 h-2 z M224 449 h2 v2 h-2 z M225 450 h2 v2 h-2 z M224 450 h2 v2 h-2 z M225 451 h2 v2 h-2 z M227 451 h2 v2 h-2 z M229 451 h2 v2 h-2 z M229 452 h2 v2 h-2 z M231 452 h2 v2 h-2 z M230 452 h2 v2 h-2 z M231 453 h2 v2 h-2 z M231 454 h2 v2 h-2 z M232 455 h2 v2 h-2 z M233 455 h2 v2 h-2 z M225 459 h2 v2 h-2 z M226 458 h2 v2 h-2 z M226 459 h2 v2 h-2 z M227 460 h2 v2 h-2 z M228 461 h2 v2 h-2 z M228 463 h2 v2 h-2 z M228 462 h2 v2 h-2 z M228 463 h2 v2 h-2 z M227 464 h2 v2 h-2 z M215 453 h2 v2 h-2 z M216 454 h2 v2 h-2 z M216 454 h2 v2 h-2 z M217 455 h2 v2 h-2 z M219 455 h2 v2 h-2 z M219 457 h2 v2 h-2 z M220 456 h2 v2 h-2 z M220 457 h2 v2 h-2 z M221 457 h2 v2 h-2 z M222 458 h2 v2 h-2 z M223 459 h2 v2 h-2 z M223 459 h2 v2 h-2 z M221 451 h2 v2 h-2 z M222 451 h2 v2 h-2 z M222 452 h2 v2 h-2 z M223 452 h2 v2 h-2 z M225 452 h2 v2 h-2 z M244 423 h2 v2 h-2 z M246 422 h2 v2 h-2 z M246 423 h2 v2 h-2 z M247 424 h2 v2 h-2 z M247 423 h2 v2 h-2 z M247 422 h2 v2 h-2 z M249 422 h2 v2 h-2 z M250 421 h2 v2 h-2 z M251 421 h2 v2 h-2 z M251 420 h2 v2 h-2 z M252 419 h2 v2 h-2 z M252 420 h2 v2 h-2 z M252 419 h2 v2 h-2 z M253 419 h2 v2 h-2 z M255 419 h2 v2 h-2 z M246 426 h2 v2 h-2 z M247 426 h2 v2 h-2 z M248 425 h2 v2 h-2 z M249 425 h2 v2 h-2 z M456 198 h2 v2 h-2 z M456 197 h2 v2 h-2 z M458 197 h2 v2 h-2 z M459 196 h2 v2 h-2 z M462 200 h2 v2 h-2 z M463 200 h2 v2 h-2 z M464 201 h2 v2 h-2 z M465 199 h2 v2 h-2 z M464 196 h2 v2 h-2 z M465 197 h2 v2 h-2 z M464 174 h2 v2 h-2 z M464 174 h2 v2 h-2 z M464 174 h2 v2 h-2 z M464 176 h2 v2 h-2 z M465 176 h2 v2 h-2 z M464 179 h2 v2 h-2 z M465 181 h2 v2 h-2 z M465 183 h2 v2 h-2 z M465 183 h2 v2 h-2 z M459 157 h2 v2 h-2 z M459 157 h2 v2 h-2 z M459 159 h2 v2 h-2 z M432 134 h2 v2 h-2 z M433 135 h2 v2 h-2 z M433 137 h2 v2 h-2 z M434 136 h2 v2 h-2 z M434 136 h2 v2 h-2 z M434 138 h2 v2 h-2 z M434 139 h2 v2 h-2 z M433 139 h2 v2 h-2 z M434 140 h2 v2 h-2 z M434 141 h2 v2 h-2 z M545 95 h2 v2 h-2 z M544 93 h4 v4 h-4 z M545 93 h3 v3 h-3 z M547 92 h2 v2 h-2 z M547 91 h4 v4 h-4 z M548 90 h3 v3 h-3 z M547 91 h3 v3 h-3 z M548 88 h4 v4 h-4 z M549 89 h2 v2 h-2 z M549 88 h3 v3 h-3 z M550 87 h4 v4 h-4 z M548 85 h4 v4 h-4 z M549 86 h4 v4 h-4 z M550 84 h2 v2 h-2 z M552 83 h3 v3 h-3 z M565 68 h2 v2 h-2 z M563 65 h3 v3 h-3 z M565 67 h2 v2 h-2 z M565 65 h4 v4 h-4 z M567 64 h3 v3 h-3 z M566 63 h3 v3 h-3 z M567 64 h3 v3 h-3 z M569 62 h3 v3 h-3 z M569 62 h3 v3 h-3 z M570 61 h3 v3 h-3 z M570 59 h3 v3 h-3 z M558 75 h2 v2 h-2 z M560 76 h2 v2 h-2 z M555 79 h2 v2 h-2 z M555 79 h2 v2 h-2 z M480 123 h2 v2 h-2 z M481 123 h2 v2 h-2 z M482 123 h2 v2 h-2 z M484 122 h2 v2 h-2 z M485 123 h2 v2 h-2 z M485 123 h2 v2 h-2 z M485 123 h2 v2 h-2 z M486 122 h2 v2 h-2 z M487 122 h2 v2 h-2 z M488 123 h2 v2 h-2 z M488 123 h2 v2 h-2 z M490 122 h2 v2 h-2 z M492 122 h2 v2 h-2 z M491 122 h2 v2 h-2 z M491 121 h2 v2 h-2 z M493 122 h2 v2 h-2 z M494 122 h2 v2 h-2 z M496 121 h2 v2 h-2 z M496 121 h2 v2 h-2 z M496 120 h2 v2 h-2 z M493 119 h2 v2 h-2 z M494 119 h2 v2 h-2 z M495 120 h2 v2 h-2 z M496 120 h2 v2 h-2 z M497 119 h2 v2 h-2 z M499 119 h2 v2 h-2 z M499 118 h2 v2 h-2 z M509 117 h2 v2 h-2 z M510 117 h2 v2 h-2 z M511 117 h2 v2 h-2 z M512 118 h2 v2 h-2 z M490 100 h2 v2 h-2 z M491 100 h2 v2 h-2 z M492 99 h2 v2 h-2 z M436 298 h2 v2 h-2 z M437 297 h4 v4 h-4 z M438 299 h2 v2 h-2 z M439 299 h3 v3 h-3 z M440 299 h4 v4 h-4 z M440 301 h3 v3 h-3 z M442 300 h4 v4 h-4 z M439 295 h4 v4 h-4 z M439 297 h4 v4 h-4 z M440 295 h3 v3 h-3 z M442 297 h3 v3 h-3 z M430 310 h3 v3 h-3 z M431 312 h4 v4 h-4 z M431 313 h3 v3 h-3 z M431 313 h3 v3 h-3 z M431 313 h3 v3 h-3 z M433 315 h3 v3 h-3 z M432 315 h3 v3 h-3 z M430 308 h3 v3 h-3 z M431 308 h4 v4 h-4 z M434 309 h2 v2 h-2 z M434 309 h3 v3 h-3 z M441 393 h3 v3 h-3 z M442 391 h3 v3 h-3 z M444 391 h2 v2 h-2 z M445 390 h3 v3 h-3 z M448 385 h3 v3 h-3 z M449 383 h2 v2 h-2 z M448 384 h3 v3 h-3 z M451 384 h2 v2 h-2 z M450 381 h4 v4 h-4 z M451 383 h2 v2 h-2 z M453 382 h2 v2 h-2 z M452 380 h3 v3 h-3 z M453 380 h3 v3 h-3 z M453 379 h3 v3 h-3 z M457 377 h3 v3 h-3 z M459 376 h3 v3 h-3 z M460 375 h4 v4 h-4 z M462 375 h2 v2 h-2 z M462 375 h2 v2 h-2 z M465 374 h3 v3 h-3 z M465 372 h3 v3 h-3 z M466 373 h3 v3 h-3 z M467 373 h2 v2 h-2 z M446 388 h4 v4 h-4 z M446 388 h4 v4 h-4 z M448 386 h3 v3 h-3 z M449 386 h3 v3 h-3 z M463 257 h2 v2 h-2 z M465 260 h2 v2 h-2 z M466 259 h2 v2 h-2 z M481 271 h2 v2 h-2 z M483 271 h2 v2 h-2 z M494 276 h2 v2 h-2 z M494 277 h2 v2 h-2 z M495 279 h2 v2 h-2 z M495 280 h2 v2 h-2 z M491 282 h2 v2 h-2 z M492 283 h2 v2 h-2 z M493 284 h2 v2 h-2 z M494 284 h2 v2 h-2 z M494 284 h2 v2 h-2 z M495 285 h2 v2 h-2 z M496 285 h2 v2 h-2 z M467 292 h2 v2 h-2 z M466 293 h2 v2 h-2 z M468 294 h2 v2 h-2 z M467 295 h2 v2 h-2 z M474 295 h2 v2 h-2 z M474 295 h2 v2 h-2 z M483 293 h2 v2 h-2 z M484 293 h2 v2 h-2 z M492 289 h2 v2 h-2 z M494 290 h2 v2 h-2 z M494 291 h2 v2 h-2 z M499 298 h2 v2 h-2 z M501 299 h2 v2 h-2 z M501 300 h2 v2 h-2 z M501 301 h2 v2 h-2 z M501 302 h2 v2 h-2 z M497 300 h2 v2 h-2 z M497 302 h2 v2 h-2 z M498 303 h2 v2 h-2 z M498 304 h2 v2 h-2 z M497 305 h2 v2 h-2 z M498 306 h2 v2 h-2 z M499 307 h2 v2 h-2 z M499 308 h2 v2 h-2 z M495 314 h2 v2 h-2 z M496 316 h2 v2 h-2 z M497 317 h2 v2 h-2 z M498 317 h2 v2 h-2 z M498 317 h2 v2 h-2 z M499 318 h2 v2 h-2 z M499 318 h2 v2 h-2 z M501 319 h2 v2 h-2 z M502 319 h2 v2 h-2 z M503 338 h2 v2 h-2 z M504 339 h2 v2 h-2 z M504 341 h2 v2 h-2 z M455 267 h2 v2 h-2 z M456 268 h2 v2 h-2 z M446 262 h2 v2 h-2 z M446 262 h2 v2 h-2 z M446 264 h2 v2 h-2 z M447 264 h2 v2 h-2 z M470 281 h2 v2 h-2 z M471 282 h2 v2 h-2 z M472 283 h2 v2 h-2 z M473 284 h2 v2 h-2 z M477 288 h2 v2 h-2 z M478 288 h2 v2 h-2 z M479 290 h2 v2 h-2 z M514 321 h2 v2 h-2 z M514 322 h2 v2 h-2 z M513 323 h2 v2 h-2 z M514 324 h4 v4 h-4 z M513 324 h3 v3 h-3 z M515 325 h4 v4 h-4 z M516 326 h3 v3 h-3 z M514 325 h4 v4 h-4 z M516 328 h2 v2 h-2 z M514 329 h4 v4 h-4 z M514 330 h3 v3 h-3 z M514 330 h4 v4 h-4 z M515 331 h3 v3 h-3 z M518 327 h3 v3 h-3 z M521 329 h3 v3 h-3 z M397 408 h4 v4 h-4 z M399 408 h3 v3 h-3 z M400 408 h3 v3 h-3 z M402 409 h2 v2 h-2 z M403 409 h3 v3 h-3 z M403 409 h3 v3 h-3 z M404 408 h3 v3 h-3 z M404 409 h2 v2 h-2 z M405 408 h3 v3 h-3 z M407 408 h3 v3 h-3 z M400 415 h4 v4 h-4 z M402 416 h4 v4 h-4 z M403 419 h2 v2 h-2 z M403 418 h3 v3 h-3 z M406 419 h2 v2 h-2 z M405 419 h2 v2 h-2 z M406 419 h3 v3 h-3 z M406 421 h2 v2 h-2 z M406 420 h4 v4 h-4 z M407 422 h2 v2 h-2 z M403 426 h4 v4 h-4 z M403 427 h3 v3 h-3 z M404 426 h2 v2 h-2 z M405 426 h2 v2 h-2 z M407 426 h3 v3 h-3 z M252 325 h2 v2 h-2 z M253 325 h2 v2 h-2 z M254 325 h2 v2 h-2 z M255 326 h2 v2 h-2 z M255 327 h2 v2 h-2 z M256 327 h2 v2 h-2 z M257 328 h2 v2 h-2 z M257 328 h2 v2 h-2 z M258 329 h2 v2 h-2 z M254 322 h2 v2 h-2 z M256 323 h2 v2 h-2 z M256 323 h2 v2 h-2 z M257 324 h2 v2 h-2 z M257 325 h2 v2 h-2 z M258 326 h2 v2 h-2 z M256 322 h2 v2 h-2 z M257 322 h2 v2 h-2 z M258 323 h2 v2 h-2 z M259 323 h2 v2 h-2 z M155 345 h2 v2 h-2 z M156 346 h2 v2 h-2 z M156 346 h2 v2 h-2 z M157 347 h2 v2 h-2 z M159 351 h2 v2 h-2 z M160 353 h2 v2 h-2 z M159 353 h2 v2 h-2 z M160 354 h2 v2 h-2 z M160 355 h2 v2 h-2 z M157 359 h2 v2 h-2 z M156 361 h2 v2 h-2 z M157 362 h2 v2 h-2 z M157 362 h2 v2 h-2 z M158 364 h2 v2 h-2 z M162 366 h2 v2 h-2 z M162 368 h2 v2 h-2 z M163 370 h2 v2 h-2 z M163 370 h2 v2 h-2 z M164 371 h2 v2 h-2 z M157 374 h2 v2 h-2 z M158 375 h2 v2 h-2 z M158 376 h2 v2 h-2 z M159 377 h2 v2 h-2 z M158 379 h2 v2 h-2 z M159 379 h2 v2 h-2 z M221 427 h2 v2 h-2 z M222 426 h2 v2 h-2 z M223 426 h2 v2 h-2 z M225 427 h2 v2 h-2 z M228 430 h2 v2 h-2 z M229 431 h2 v2 h-2 z"/>
</g>
<g fill="#c3c1c3" stroke="#000" stroke-width="1.2" stroke-linejoin="round">
<path d="M277.8 409.7 L280.8 408.7 L282.2 412.4 L280.8 415.6 L278.2 414.9 Z"/>
<path d="M198.2 444.6 L201.7 444.3 L203.0 448.3 L201.4 451.5 L198.7 449.1 Z"/>
<path d="M203.8 450.7 L207.8 450.4 L211.0 453.1 L209.4 455.5 L205.4 454.2 Z"/>
<path d="M466.0 361.0 L470.0 359.8 L470.8 367.5 L468.1 370.7 L465.7 367.5 Z"/>
<path d="M438.0 300.3 L444.0 300.0 L444.8 303.5 L440.8 304.8 L438.0 303.2 Z"/>
<path d="M529.9 405.3 L532.6 404.4 L533.5 409.6 L531.6 413.4 L529.5 410.8 Z"/>
<path d="M514.0 414.9 L516.4 414.4 L516.8 420.3 L514.4 421.1 Z"/>
<path d="M454.4 383.4 L457.7 382.4 L458.2 384.8 L454.8 385.8 Z"/>
<path d="M466.3 373.8 L469.1 372.9 L469.6 376.7 L466.8 377.7 Z"/>
</g>
<g fill="none" stroke="#000" stroke-width="1.1" stroke-linejoin="round">
<path d="M154.1 159.0 L158.4 157.7 L164.1 158.5 L168.4 160.0 L169.7 163.7 L172.5 166.7 L178.1 165.6 L183.4 162.8 L185.2 165.6 L185.6 170.3 L193.1 170.9 L192.7 163.7 L190.3 158.1 L189.9 154.4 L193.1 152.5 L197.8 152.5 L199.1 152.9"/>
<path d="M154.1 142.7 L162.2 143.1 L161.6 147.2 L159.4 148.7 L158.4 153.4 L157.9 157.7"/>
<path d="M199.1 152.9 L201.5 148.7 L206.2 148.7 L210.0 152.1 L214.7 147.8 L217.5 148.7 L222.2 151.6 L225.0 147.8 L230.6 147.8 L236.2 142.2 L240.9 139.4 L243.7 141.2 L249.3 145.0 L258.7 145.4 L261.9 148.4 L258.3 153.4 L260.6 159.0 L265.3 161.9 L269.9 164.7 L274.6 164.7 L281.2 162.8 L284.0 160.9"/>
<path d="M199.1 152.9 L202.5 158.1 L206.2 162.8 L209.0 164.7 L208.5 170.3 L211.8 175.0 L216.5 176.9 L220.3 177.8 L225.0 174.6 L228.7 175.9 L231.5 179.7 L230.6 183.4 L235.3 185.3 L236.6 188.1 L232.5 192.8 L225.0 192.8 L222.2 198.4 L228.7 202.2 L237.1 205.9 L238.1 209.6 L242.8 215.3 L247.5 220.0 L252.1 224.6 L254.9 227.5 L255.4 229.8 L257.8 234.6 L261.0 237.9 L265.1 241.9 L269.9 245.1 L266.7 249.1 L270.7 253.1 L273.1 256.3 L270.7 261.1 L270.4 265.2"/>
<path d="M183.4 162.8 L178.1 170.3 L175.3 175.0 L170.6 179.7 L169.7 183.4 L161.2 184.3 L156.6 187.2 L154.1 188.1"/>
<path d="M170.6 181.5 L174.4 186.2 L175.3 194.7 L180.9 194.7 L186.5 194.7 L185.6 202.2 L186.5 203.1 L183.7 210.6 L184.7 216.2 L181.9 221.8 L183.7 223.7 L190.3 219.6 L196.9 214.3 L201.5 217.1 L206.2 218.1 L211.8 214.3 L214.7 210.6 L219.3 211.5 L224.0 213.4 L227.8 219.0 L233.4 223.7 L234.3 227.5 L234.3 232.1 L233.4 229.8 L234.5 236.2 L236.1 241.1 L240.2 245.1 L244.2 249.1 L245.0 253.9 L243.4 259.5 L243.4 265.2 L241.0 268.4"/>
<path d="M241.0 268.4 L244.2 270.8 L248.2 272.4 L252.2 267.6 L256.2 266.0 L260.2 267.6 L264.3 269.2 L267.5 267.1 L270.4 265.2"/>
<path d="M270.4 265.2 L269.1 268.4 L269.9 273.2 L271.5 278.0 L272.3 282.8 L270.7 287.7 L271.0 292.5 L269.1 295.7 L264.3 298.1 L259.4 300.5 L256.2 302.9 L253.8 304.5 L249.8 305.3 L248.2 308.5 L248.4 309.7 L252.1 314.4 L247.5 316.2 L241.8 318.1 L238.1 319.0 L233.4 321.9"/>
<path d="M241.0 268.4 L236.9 268.1 L232.1 267.6 L225.7 267.6 L219.3 267.6 L213.7 268.1 L209.6 270.0 L207.2 273.2 L204.8 277.2 L201.3 279.6 L201.6 284.4 L203.2 289.3 L204.8 294.1 L207.2 298.1 L208.0 300.5"/>
<path d="M154.8 273.4 L156.1 278.2 L157.7 284.6 L160.0 291.8 L161.2 295.6 L164.1 301.2 L160.3 308.7 L157.5 316.2 L155.6 323.7 L154.7 329.4"/>
<path d="M172.0 374.4 L174.6 376.1 L179.5 377.7 L182.1 380.3 L183.2 383.5 L183.7 386.8 L186.9 385.7 L192.3 385.2 L195.0 383.5 L197.1 381.4"/>
<path d="M298.7 439.3 L301.5 444.0 L306.2 449.5 L310.8 452.7 L316.4 451.4 L323.8 450.8 L331.2 450.1 L334.0 445.8 L339.5 444.0 L345.1 444.9 L349.7 447.1 L355.3 447.7 L360.9 445.8 L366.4 444.9 L369.2 439.3 L370.1 433.8 L373.8 431.0 L374.8 425.4 L379.4 423.6 L380.3 417.1 L380.9 409.7 L385.0 406.9 L392.4 406.0 L399.8 406.0 L407.2 406.3 L410.9 407.1"/>
<path d="M361.8 404.1 L367.3 410.6 L371.1 406.0 L371.1 398.5"/>
<path d="M373.8 398.5 L374.8 405.0 L377.5 404.1 L377.2 397.6"/>
<path d="M305.6 136.6 L308.4 136.0 L312.2 137.9 L316.9 138.4 L323.4 137.5"/>
<path d="M248.2 260.3 L248.2 266.8 L248.5 273.2"/>
<path d="M249.8 276.4 L250.1 282.8 L251.1 289.3"/>
<path d="M233.7 302.1 L238.6 302.4 L243.4 300.5"/>
<path d="M236.1 306.9 L237.8 310.1 L239.4 315.0"/>
</g>
</g>
<g shape-rendering="crispEdges">
<rect x="154" y="37" width="422" height="429" fill="none" stroke="#000" stroke-width="2"/>
<path d="M168.5 38 V43 M168.5 465 V460 M195.5 38 V43 M195.5 465 V460 M222.5 38 V43 M222.5 465 V460 M250.5 38 V43 M250.5 465 V460 M277.5 38 V43 M277.5 465 V460 M304.5 38 V43 M304.5 465 V460 M331.5 38 V43 M331.5 465 V460 M358.5 38 V43 M358.5 465 V460 M386.5 38 V43 M386.5 465 V460 M413.5 38 V43 M413.5 465 V460 M440.5 38 V43 M440.5 465 V460 M467.5 38 V43 M467.5 465 V460 M494.5 38 V43 M494.5 465 V460 M522.5 38 V43 M522.5 465 V460 M549.5 38 V43 M549.5 465 V460 M155 438.5 H160 M575 438.5 H570 M155 411.5 H160 M575 411.5 H570 M155 384.5 H160 M575 384.5 H570 M155 356.5 H160 M575 356.5 H570 M155 329.5 H160 M575 329.5 H570 M155 301.5 H160 M575 301.5 H570 M155 273.5 H160 M575 273.5 H570 M155 245.5 H160 M575 245.5 H570 M155 217.5 H160 M575 217.5 H570 M155 188.5 H160 M575 188.5 H570 M155 159.5 H160 M575 159.5 H570 M155 129.5 H160 M575 129.5 H570 M155 99.5 H160 M575 99.5 H570 M155 69.5 H160 M575 69.5 H570" stroke="#000" stroke-width="1" fill="none"/>
<rect x="245" y="524" width="2" height="13" fill="#000"/>
<rect x="247" y="524" width="5" height="13" fill="#0000ff"/>
<rect x="252" y="524" width="5" height="13" fill="#0016ff"/>
<rect x="257" y="524" width="5" height="13" fill="#002bff"/>
<rect x="262" y="524" width="5" height="13" fill="#0041ff"/>
<rect x="267" y="524" width="5" height="13" fill="#0057ff"/>
<rect x="272" y="524" width="5" height="13" fill="#006dff"/>
<rect x="277" y="524" width="5" height="13" fill="#0082ff"/>
<rect x="282" y="524" width="5" height="13" fill="#0098ff"/>
<rect x="287" y="524" width="5" height="13" fill="#00aeff"/>
<rect x="292" y="524" width="5" height="13" fill="#00c3ff"/>
<rect x="297" y="524" width="5" height="13" fill="#00d9ff"/>
<rect x="302" y="524" width="5" height="13" fill="#00efff"/>
<rect x="307" y="524" width="5" height="13" fill="#00fffa"/>
<rect x="312" y="524" width="5" height="13" fill="#00ffe4"/>
<rect x="317" y="524" width="5" height="13" fill="#00ffce"/>
<rect x="322" y="524" width="5" height="13" fill="#00ffb8"/>
<rect x="327" y="524" width="5" height="13" fill="#00ffa3"/>
<rect x="332" y="524" width="5" height="13" fill="#00ff8d"/>
<rect x="337" y="524" width="5" height="13" fill="#00ff77"/>
<rect x="342" y="524" width="5" height="13" fill="#00ff62"/>
<rect x="347" y="524" width="5" height="13" fill="#00ff4c"/>
<rect x="352" y="524" width="5" height="13" fill="#00ff36"/>
<rect x="357" y="524" width="5" height="13" fill="#00ff21"/>
<rect x="362" y="524" width="5" height="13" fill="#00ff0b"/>
<rect x="367" y="524" width="5" height="13" fill="#0bff00"/>
<rect x="372" y="524" width="5" height="13" fill="#21ff00"/>
<rect x="377" y="524" width="5" height="13" fill="#36ff00"/>
<rect x="382" y="524" width="5" height="13" fill="#4cff00"/>
<rect x="387" y="524" width="5" height="13" fill="#62ff00"/>
<rect x="392" y="524" width="5" height="13" fill="#77ff00"/>
<rect x="397" y="524" width="5" height="13" fill="#8dff00"/>
<rect x="402" y="524" width="5" height="13" fill="#a3ff00"/>
<rect x="407" y="524" width="5" height="13" fill="#b8ff00"/>
<rect x="412" y="524" width="5" height="13" fill="#ceff00"/>
<rect x="417" y="524" width="5" height="13" fill="#e4ff00"/>
<rect x="422" y="524" width="5" height="13" fill="#faff00"/>
<rect x="427" y="524" width="5" height="13" fill="#ffef00"/>
<rect x="432" y="524" width="5" height="13" fill="#ffd900"/>
<rect x="437" y="524" width="5" height="13" fill="#ffc300"/>
<rect x="442" y="524" width="5" height="13" fill="#ffae00"/>
<rect x="447" y="524" width="5" height="13" fill="#ff9800"/>
<rect x="452" y="524" width="5" height="13" fill="#ff8200"/>
<rect x="457" y="524" width="5" height="13" fill="#ff6d00"/>
<rect x="462" y="524" width="5" height="13" fill="#ff5700"/>
<rect x="467" y="524" width="5" height="13" fill="#ff4100"/>
<rect x="472" y="524" width="5" height="13" fill="#ff2b00"/>
<rect x="477" y="524" width="5" height="13" fill="#ff1600"/>
<rect x="482" y="524" width="4" height="13" fill="#ff0000"/>
</g>
</svg>
<div style="position:absolute;white-space:nowrap;font-size:13px;line-height:13px;top:8.9px;left:237.0px;">Significant Wave Height with Wave Direction</div>
<div style="position:absolute;white-space:nowrap;font-size:12px;line-height:12px;top:21.2px;left:275.4px;font-style:italic;">Valid For Oct-24-2018 06:00 GMT</div>
<div style="position:absolute;white-space:nowrap;font-size:11px;line-height:11px;top:473.7px;left:157.6px;font-style:italic;">100 E</div>
<div style="position:absolute;white-space:nowrap;font-size:11px;line-height:11px;top:473.7px;left:225.4px;font-style:italic;">105 E</div>
<div style="position:absolute;white-space:nowrap;font-size:11px;line-height:11px;top:473.7px;left:293.2px;font-style:italic;">110 E</div>
<div style="position:absolute;white-space:nowrap;font-size:11px;line-height:11px;top:473.7px;left:361.0px;font-style:italic;">115 E</div>
<div style="position:absolute;white-space:nowrap;font-size:11px;line-height:11px;top:473.7px;left:428.8px;font-style:italic;">120 E</div>
<div style="position:absolute;white-space:nowrap;font-size:11px;line-height:11px;top:473.7px;left:496.6px;font-style:italic;">125 E</div>
<div style="position:absolute;white-space:nowrap;font-size:11px;line-height:11px;top:473.7px;left:564.4px;font-style:italic;">130 E</div>
<div style="position:absolute;white-space:nowrap;font-size:11px;line-height:11px;top:32.7px;left:583.4px;font-style:italic;">30 N</div>
<div style="position:absolute;white-space:nowrap;font-size:11px;line-height:11px;top:109.4px;left:583.4px;font-style:italic;">25 N</div>
<div style="position:absolute;white-space:nowrap;font-size:11px;line-height:11px;top:183.1px;left:583.4px;font-style:italic;">20 N</div>
<div style="position:absolute;white-space:nowrap;font-size:11px;line-height:11px;top:254.4px;left:583.4px;font-style:italic;">15 N</div>
<div style="position:absolute;white-space:nowrap;font-size:11px;line-height:11px;top:324.1px;left:583.4px;font-style:italic;">10 N</div>
<div style="position:absolute;white-space:nowrap;font-size:11px;line-height:11px;top:392.7px;left:583.4px;font-style:italic;">5 N</div>
<div style="position:absolute;white-space:nowrap;font-size:11px;line-height:11px;top:460.3px;left:584.0px;font-style:italic;">0</div>
<div style="position:absolute;white-space:nowrap;font-size:11px;line-height:11px;top:487.6px;left:155.5px;">oceanweather inc.</div>
<div style="position:absolute;white-space:nowrap;font-size:7.45px;line-height:7.45px;top:487.7px;left:460.3px;font-style:italic;">Plotted at Oct 24, 2018 01:38 GMT</div>
<div style="position:absolute;white-space:nowrap;font-size:9.5px;line-height:9.5px;top:501.1px;left:295.3px;">Significant Wave Height (Meters)</div>
<div style="position:absolute;white-space:nowrap;font-size:9.5px;line-height:9.5px;top:548.9px;left:300.5px;">Significant Wave Height (Feet)</div>
<div style="position:absolute;white-space:nowrap;font-size:9.5px;line-height:9.5px;top:513.0px;left:246.4px;width:200px;margin-left:-100px;text-align:center;">0</div>
<div style="position:absolute;white-space:nowrap;font-size:9.5px;line-height:9.5px;top:513.0px;left:266.5px;width:200px;margin-left:-100px;text-align:center;">1</div>
<div style="position:absolute;white-space:nowrap;font-size:9.5px;line-height:9.5px;top:513.0px;left:286.5px;width:200px;margin-left:-100px;text-align:center;">2</div>
<div style="position:absolute;white-space:nowrap;font-size:9.5px;line-height:9.5px;top:513.0px;left:306.6px;width:200px;margin-left:-100px;text-align:center;">3</div>
<div style="position:absolute;white-space:nowrap;font-size:9.5px;line-height:9.5px;top:513.0px;left:326.6px;width:200px;margin-left:-100px;text-align:center;">4</div>
<div style="position:absolute;white-space:nowrap;font-size:9.5px;line-height:9.5px;top:513.0px;left:346.7px;width:200px;margin-left:-100px;text-align:center;">5</div>
<div style="position:absolute;white-space:nowrap;font-size:9.5px;line-height:9.5px;top:513.0px;left:366.8px;width:200px;margin-left:-100px;text-align:center;">6</div>
<div style="position:absolute;white-space:nowrap;font-size:9.5px;line-height:9.5px;top:513.0px;left:386.8px;width:200px;margin-left:-100px;text-align:center;">7</div>
<div style="position:absolute;white-space:nowrap;font-size:9.5px;line-height:9.5px;top:513.0px;left:406.9px;width:200px;margin-left:-100px;text-align:center;">8</div>
<div style="position:absolute;white-space:nowrap;font-size:9.5px;line-height:9.5px;top:513.0px;left:426.9px;width:200px;margin-left:-100px;text-align:center;">9</div>
<div style="position:absolute;white-space:nowrap;font-size:9.5px;line-height:9.5px;top:513.0px;left:447.0px;width:200px;margin-left:-100px;text-align:center;">10</div>
<div style="position:absolute;white-space:nowrap;font-size:9.5px;line-height:9.5px;top:513.0px;left:467.1px;width:200px;margin-left:-100px;text-align:center;">11</div>
<div style="position:absolute;white-space:nowrap;font-size:9.5px;line-height:9.5px;top:513.0px;left:487.1px;width:200px;margin-left:-100px;text-align:center;">12</div>
<div style="position:absolute;white-space:nowrap;font-size:9.5px;line-height:9.5px;top:536.8px;left:246.4px;width:200px;margin-left:-100px;text-align:center;">0</div>
<div style="position:absolute;white-space:nowrap;font-size:9.5px;line-height:9.5px;top:536.8px;left:276.5px;width:200px;margin-left:-100px;text-align:center;">5</div>
<div style="position:absolute;white-space:nowrap;font-size:9.5px;line-height:9.5px;top:536.8px;left:306.6px;width:200px;margin-left:-100px;text-align:center;">10</div>
<div style="position:absolute;white-space:nowrap;font-size:9.5px;line-height:9.5px;top:536.8px;left:336.6px;width:200px;margin-left:-100px;text-align:center;">15</div>
<div style="position:absolute;white-space:nowrap;font-size:9.5px;line-height:9.5px;top:536.8px;left:366.7px;width:200px;margin-left:-100px;text-align:center;">20</div>
<div style="position:absolute;white-space:nowrap;font-size:9.5px;line-height:9.5px;top:536.8px;left:396.8px;width:200px;margin-left:-100px;text-align:center;">25</div>
<div style="position:absolute;white-space:nowrap;font-size:9.5px;line-height:9.5px;top:536.8px;left:426.9px;width:200px;margin-left:-100px;text-align:center;">30</div>
<div style="position:absolute;white-space:nowrap;font-size:9.5px;line-height:9.5px;top:536.8px;left:457.0px;width:200px;margin-left:-100px;text-align:center;">35</div>
<div style="position:absolute;white-space:nowrap;font-size:9.5px;line-height:9.5px;top:536.8px;left:487.0px;width:200px;margin-left:-100px;text-align:center;">40</div>
</body></html>
